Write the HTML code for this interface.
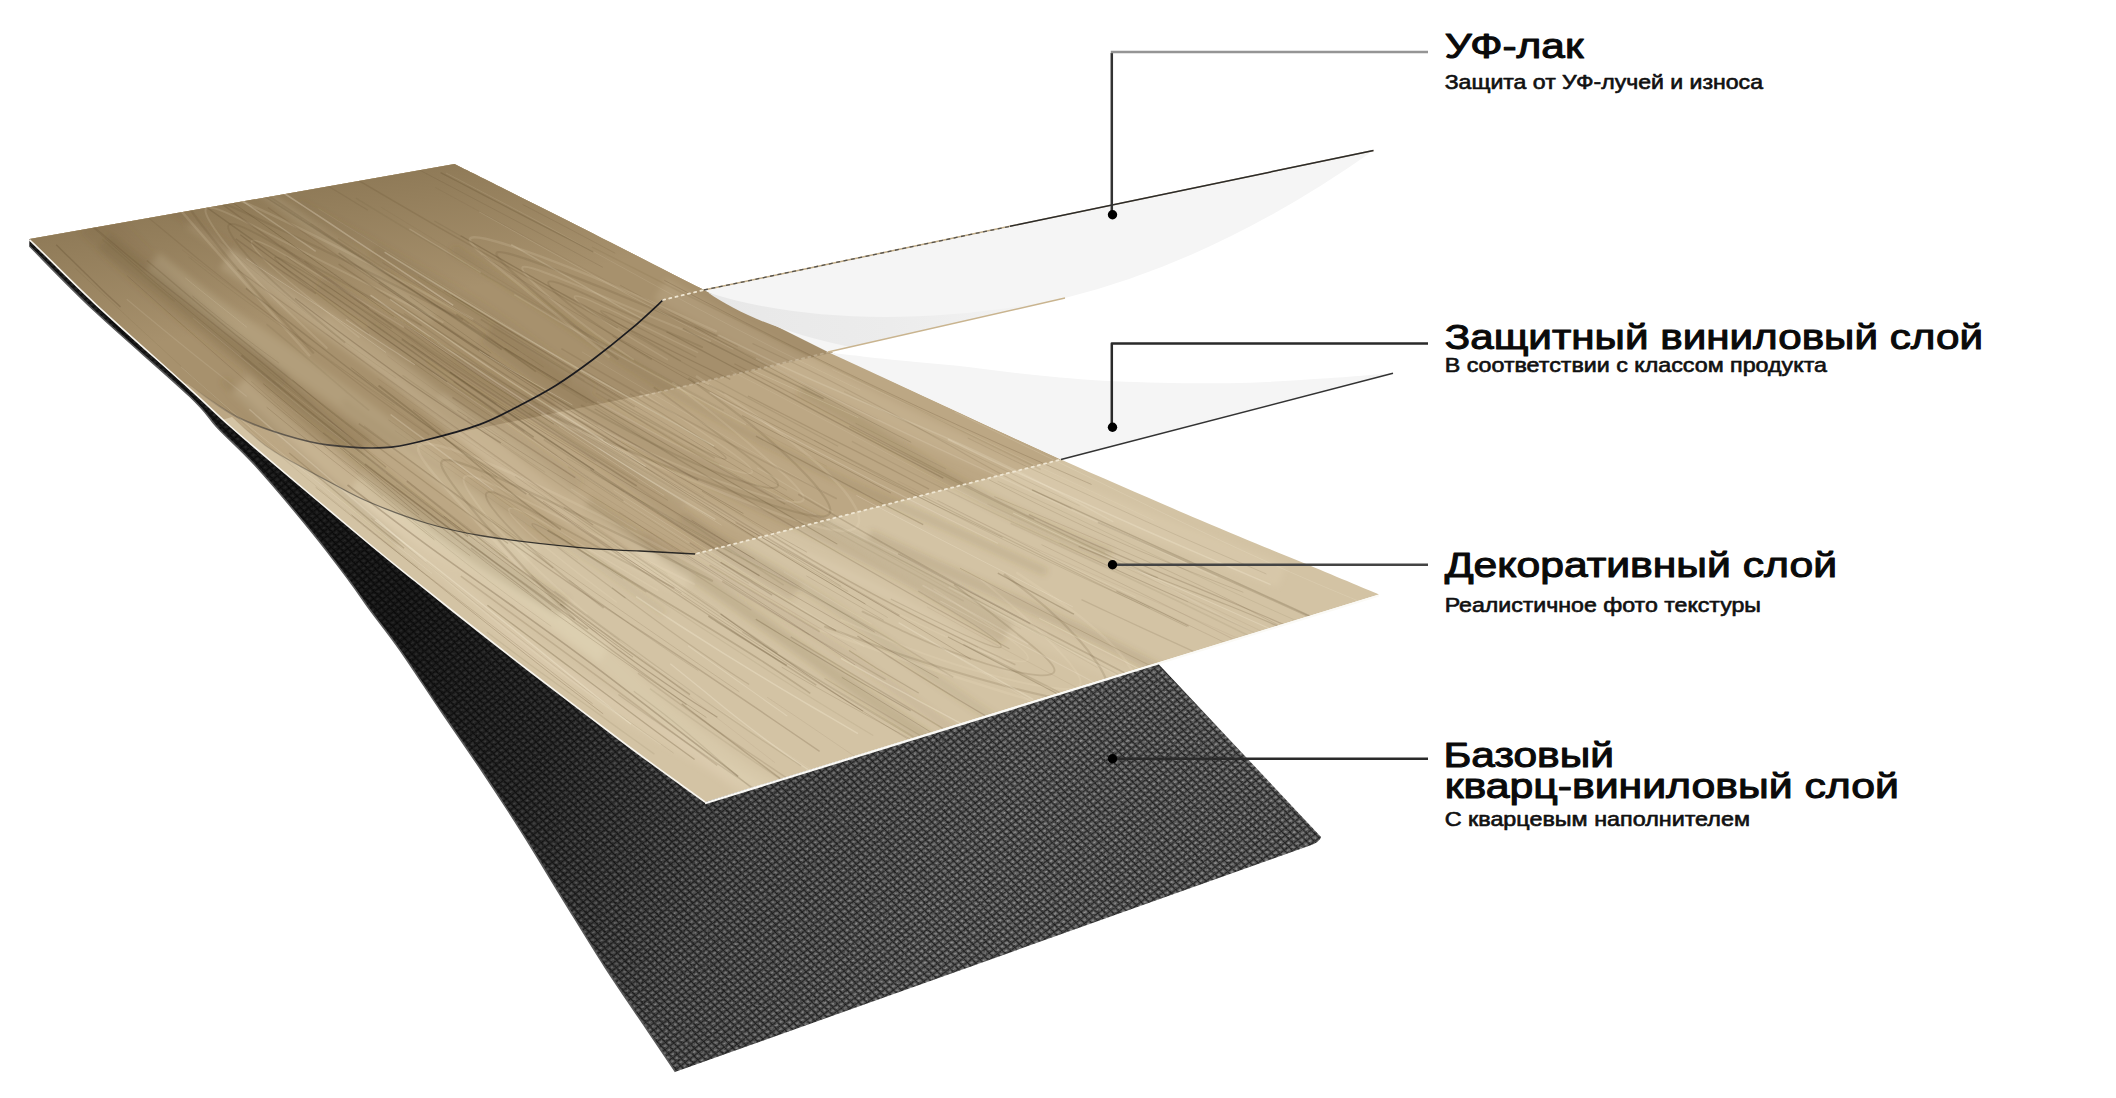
<!DOCTYPE html>
<html lang="ru"><head><meta charset="utf-8"><title>Слои</title>
<style>
html,body{margin:0;padding:0;background:#fff;}
body{width:2116px;height:1098px;overflow:hidden;}
svg{display:block;position:absolute;left:0;top:0;}
.t{font-family:"Liberation Sans","DejaVu Sans",sans-serif;font-weight:400;fill:#0a0a0a;stroke:#0a0a0a;stroke-width:1.05px;stroke-linejoin:round;}
.s{font-family:"Liberation Sans","DejaVu Sans",sans-serif;font-weight:400;fill:#111;stroke:#111;stroke-width:0.62px;stroke-linejoin:round;}
</style></head><body>
<svg width="2116" height="1098" viewBox="0 0 2116 1098">
<defs>
<clipPath id="cw"><path d="M29.5,239 L454.5,164 C473.6,173.6 527.8,200.4 569.4,221.4 C611.0,242.4 668.9,272.3 704.0,290.0 C739.1,307.7 759.0,317.2 780.0,327.5 C801.0,337.8 805.0,339.6 830.0,351.5 C855.0,363.4 891.5,381.0 930.0,399.0 C968.5,417.0 1016.0,439.3 1061.0,459.5 C1106.0,479.7 1159.8,502.8 1200.0,520.0 C1240.2,537.2 1272.7,550.2 1302.5,562.6 C1332.3,575.0 1366.2,589.2 1379.0,594.5 L705,802 C701.3,799.3 696.3,795.8 682.8,786.0 C669.3,776.2 649.6,762.2 624.0,743.0 C598.4,723.8 558.6,693.5 529.4,671.0 C500.2,648.5 468.2,623.2 449.0,608.0 C429.8,592.8 427.2,590.7 413.9,580.0 C400.6,569.3 392.6,563.3 369.4,544.0 C346.2,524.7 297.8,483.9 274.7,464.4 C251.6,444.9 245.2,439.6 231.0,427.0 C216.8,414.4 212.1,409.2 189.4,388.6 C166.7,368.0 121.4,328.2 94.7,303.3 C68.0,278.4 40.4,249.7 29.5,239.0 Z"/></clipPath>
<clipPath id="cd"><path d="M29.5,239 L29.5,246 C40.4,256.8 68.0,286.0 94.7,311.0 C121.4,336.0 168.9,376.5 189.4,396.0 C209.9,415.5 206.7,416.3 217.8,428.0 C228.9,439.7 240.0,448.5 255.8,466.0 C271.6,483.5 297.0,513.8 312.6,533.0 C328.2,552.2 340.0,568.3 349.5,581.0 C359.0,593.7 361.0,597.5 369.4,609.0 C377.8,620.5 388.1,633.0 400.0,650.0 C411.9,667.0 427.3,690.8 441.0,711.0 C454.7,731.2 468.3,750.5 482.0,771.0 C495.7,791.5 509.3,812.3 523.0,834.0 C536.7,855.7 550.3,878.8 564.0,901.0 C577.7,923.2 591.3,945.8 605.0,967.0 C618.7,988.2 634.2,1010.5 646.0,1028.0 C657.8,1045.5 670.6,1064.5 675.5,1071.8 L1310,845.5 Q1320,842 1321,837 L1158,663.5 L705,802 C701.3,799.3 696.3,795.8 682.8,786.0 C669.3,776.2 649.6,762.2 624.0,743.0 C598.4,723.8 558.6,693.5 529.4,671.0 C500.2,648.5 468.2,623.2 449.0,608.0 C429.8,592.8 427.2,590.7 413.9,580.0 C400.6,569.3 392.6,563.3 369.4,544.0 C346.2,524.7 297.8,483.9 274.7,464.4 C251.6,444.9 245.2,439.6 231.0,427.0 C216.8,414.4 212.1,409.2 189.4,388.6 C166.7,368.0 121.4,328.2 94.7,303.3 C68.0,278.4 40.4,249.7 29.5,239.0 Z"/></clipPath>
<linearGradient id="gd" gradientUnits="userSpaceOnUse" x1="420" y1="640" x2="1000" y2="900">
<stop offset="0" stop-color="#1b1b1b"/><stop offset="0.25" stop-color="#2b2b2b"/><stop offset="0.6" stop-color="#454545"/><stop offset="1" stop-color="#4c4c4c"/>
</linearGradient>
<pattern id="wv" width="5.6" height="5.6" patternUnits="userSpaceOnUse" patternTransform="matrix(0.8 -0.6 0.7 0.72 0 0)">
<rect width="5.6" height="5.6" fill="#525252"/>
<path d="M0,0 H5.6 M0,0 V5.6" stroke="#1c1c1c" stroke-width="1.5"/>
<ellipse cx="3.2" cy="3.2" rx="1.5" ry="1.1" fill="#8c8c8c"/>
<circle cx="1.6" cy="4.3" r="0.7" fill="#2a2a2a"/>
</pattern>
<linearGradient id="gs" gradientUnits="userSpaceOnUse" x1="400" y1="620" x2="960" y2="900">
<stop offset="0" stop-color="#000" stop-opacity="0.72"/><stop offset="0.3" stop-color="#000" stop-opacity="0.55"/><stop offset="0.65" stop-color="#000" stop-opacity="0.15"/><stop offset="1" stop-color="#000" stop-opacity="0"/>
</linearGradient>
<linearGradient id="gf" gradientUnits="userSpaceOnUse" x1="720" y1="300" x2="1060" y2="300">
<stop offset="0" stop-color="#e8e8e8"/><stop offset="0.5" stop-color="#ececec"/><stop offset="1" stop-color="#f4f4f4"/>
</linearGradient>
<linearGradient id="gc1" gradientUnits="userSpaceOnUse" x1="188" y1="0" x2="420" y2="0">
<stop offset="0" stop-color="#2a2a2e" stop-opacity="0"/><stop offset="0.35" stop-color="#2a2a2e" stop-opacity="0.55"/><stop offset="1" stop-color="#1a1a1e" stop-opacity="1"/>
</linearGradient>
<linearGradient id="gc2" gradientUnits="userSpaceOnUse" x1="232" y1="0" x2="560" y2="0">
<stop offset="0" stop-color="#33322f" stop-opacity="0"/><stop offset="0.3" stop-color="#33322f" stop-opacity="0.5"/><stop offset="1" stop-color="#22211f" stop-opacity="0.95"/>
</linearGradient>
<linearGradient id="gt" gradientUnits="userSpaceOnUse" x1="300" y1="190" x2="322" y2="315">
<stop offset="0" stop-color="#3b2a0c" stop-opacity="0.22"/><stop offset="1" stop-color="#3b2a0c" stop-opacity="0"/>
</linearGradient>
<filter id="bl" x="-5%" y="-5%" width="110%" height="110%"><feGaussianBlur stdDeviation="3.2"/></filter>
<filter id="nz" x="0" y="0" width="100%" height="100%">
<feTurbulence type="fractalNoise" baseFrequency="0.55" numOctaves="2" seed="3" result="n"/>
<feColorMatrix in="n" type="matrix" values="0 0 0 0 1  0 0 0 0 1  0 0 0 0 1  0 0 0 2.4 -1.15"/>
<feComposite in2="SourceGraphic" operator="in"/>
</filter>
<filter id="nzd" x="0" y="0" width="100%" height="100%">
<feTurbulence type="fractalNoise" baseFrequency="0.5" numOctaves="2" seed="11" result="n"/>
<feColorMatrix in="n" type="matrix" values="0 0 0 0 0  0 0 0 0 0  0 0 0 0 0  0 0 0 2.6 -1.2"/>
<feComposite in2="SourceGraphic" operator="in"/>
</filter>
</defs>
<rect width="2116" height="1098" fill="#fff"/>

<path d="M29.5,239 L29.5,246 C40.4,256.8 68.0,286.0 94.7,311.0 C121.4,336.0 168.9,376.5 189.4,396.0 C209.9,415.5 206.7,416.3 217.8,428.0 C228.9,439.7 240.0,448.5 255.8,466.0 C271.6,483.5 297.0,513.8 312.6,533.0 C328.2,552.2 340.0,568.3 349.5,581.0 C359.0,593.7 361.0,597.5 369.4,609.0 C377.8,620.5 388.1,633.0 400.0,650.0 C411.9,667.0 427.3,690.8 441.0,711.0 C454.7,731.2 468.3,750.5 482.0,771.0 C495.7,791.5 509.3,812.3 523.0,834.0 C536.7,855.7 550.3,878.8 564.0,901.0 C577.7,923.2 591.3,945.8 605.0,967.0 C618.7,988.2 634.2,1010.5 646.0,1028.0 C657.8,1045.5 670.6,1064.5 675.5,1071.8 L1310,845.5 Q1320,842 1321,837 L1158,663.5 L705,802 C701.3,799.3 696.3,795.8 682.8,786.0 C669.3,776.2 649.6,762.2 624.0,743.0 C598.4,723.8 558.6,693.5 529.4,671.0 C500.2,648.5 468.2,623.2 449.0,608.0 C429.8,592.8 427.2,590.7 413.9,580.0 C400.6,569.3 392.6,563.3 369.4,544.0 C346.2,524.7 297.8,483.9 274.7,464.4 C251.6,444.9 245.2,439.6 231.0,427.0 C216.8,414.4 212.1,409.2 189.4,388.6 C166.7,368.0 121.4,328.2 94.7,303.3 C68.0,278.4 40.4,249.7 29.5,239.0 Z" fill="url(#wv)"/>
<path d="M29.5,239 L29.5,246 C40.4,256.8 68.0,286.0 94.7,311.0 C121.4,336.0 168.9,376.5 189.4,396.0 C209.9,415.5 206.7,416.3 217.8,428.0 C228.9,439.7 240.0,448.5 255.8,466.0 C271.6,483.5 297.0,513.8 312.6,533.0 C328.2,552.2 340.0,568.3 349.5,581.0 C359.0,593.7 361.0,597.5 369.4,609.0 C377.8,620.5 388.1,633.0 400.0,650.0 C411.9,667.0 427.3,690.8 441.0,711.0 C454.7,731.2 468.3,750.5 482.0,771.0 C495.7,791.5 509.3,812.3 523.0,834.0 C536.7,855.7 550.3,878.8 564.0,901.0 C577.7,923.2 591.3,945.8 605.0,967.0 C618.7,988.2 634.2,1010.5 646.0,1028.0 C657.8,1045.5 670.6,1064.5 675.5,1071.8 L1310,845.5 Q1320,842 1321,837 L1158,663.5 L705,802 C701.3,799.3 696.3,795.8 682.8,786.0 C669.3,776.2 649.6,762.2 624.0,743.0 C598.4,723.8 558.6,693.5 529.4,671.0 C500.2,648.5 468.2,623.2 449.0,608.0 C429.8,592.8 427.2,590.7 413.9,580.0 C400.6,569.3 392.6,563.3 369.4,544.0 C346.2,524.7 297.8,483.9 274.7,464.4 C251.6,444.9 245.2,439.6 231.0,427.0 C216.8,414.4 212.1,409.2 189.4,388.6 C166.7,368.0 121.4,328.2 94.7,303.3 C68.0,278.4 40.4,249.7 29.5,239.0 Z" fill="#fff" filter="url(#nz)" opacity="0.16"/>
<path d="M29.5,239 L29.5,246 C40.4,256.8 68.0,286.0 94.7,311.0 C121.4,336.0 168.9,376.5 189.4,396.0 C209.9,415.5 206.7,416.3 217.8,428.0 C228.9,439.7 240.0,448.5 255.8,466.0 C271.6,483.5 297.0,513.8 312.6,533.0 C328.2,552.2 340.0,568.3 349.5,581.0 C359.0,593.7 361.0,597.5 369.4,609.0 C377.8,620.5 388.1,633.0 400.0,650.0 C411.9,667.0 427.3,690.8 441.0,711.0 C454.7,731.2 468.3,750.5 482.0,771.0 C495.7,791.5 509.3,812.3 523.0,834.0 C536.7,855.7 550.3,878.8 564.0,901.0 C577.7,923.2 591.3,945.8 605.0,967.0 C618.7,988.2 634.2,1010.5 646.0,1028.0 C657.8,1045.5 670.6,1064.5 675.5,1071.8 L1310,845.5 Q1320,842 1321,837 L1158,663.5 L705,802 C701.3,799.3 696.3,795.8 682.8,786.0 C669.3,776.2 649.6,762.2 624.0,743.0 C598.4,723.8 558.6,693.5 529.4,671.0 C500.2,648.5 468.2,623.2 449.0,608.0 C429.8,592.8 427.2,590.7 413.9,580.0 C400.6,569.3 392.6,563.3 369.4,544.0 C346.2,524.7 297.8,483.9 274.7,464.4 C251.6,444.9 245.2,439.6 231.0,427.0 C216.8,414.4 212.1,409.2 189.4,388.6 C166.7,368.0 121.4,328.2 94.7,303.3 C68.0,278.4 40.4,249.7 29.5,239.0 Z" fill="#000" filter="url(#nzd)" opacity="0.35"/>
<path d="M29.5,239 L29.5,246 C40.4,256.8 68.0,286.0 94.7,311.0 C121.4,336.0 168.9,376.5 189.4,396.0 C209.9,415.5 206.7,416.3 217.8,428.0 C228.9,439.7 240.0,448.5 255.8,466.0 C271.6,483.5 297.0,513.8 312.6,533.0 C328.2,552.2 340.0,568.3 349.5,581.0 C359.0,593.7 361.0,597.5 369.4,609.0 C377.8,620.5 388.1,633.0 400.0,650.0 C411.9,667.0 427.3,690.8 441.0,711.0 C454.7,731.2 468.3,750.5 482.0,771.0 C495.7,791.5 509.3,812.3 523.0,834.0 C536.7,855.7 550.3,878.8 564.0,901.0 C577.7,923.2 591.3,945.8 605.0,967.0 C618.7,988.2 634.2,1010.5 646.0,1028.0 C657.8,1045.5 670.6,1064.5 675.5,1071.8 L1310,845.5 Q1320,842 1321,837 L1158,663.5 L705,802 C701.3,799.3 696.3,795.8 682.8,786.0 C669.3,776.2 649.6,762.2 624.0,743.0 C598.4,723.8 558.6,693.5 529.4,671.0 C500.2,648.5 468.2,623.2 449.0,608.0 C429.8,592.8 427.2,590.7 413.9,580.0 C400.6,569.3 392.6,563.3 369.4,544.0 C346.2,524.7 297.8,483.9 274.7,464.4 C251.6,444.9 245.2,439.6 231.0,427.0 C216.8,414.4 212.1,409.2 189.4,388.6 C166.7,368.0 121.4,328.2 94.7,303.3 C68.0,278.4 40.4,249.7 29.5,239.0 Z" fill="url(#gs)"/>
<path d="M29.5,246 C40.4,256.8 68.0,286.0 94.7,311.0 C121.4,336.0 168.9,376.5 189.4,396.0 C209.9,415.5 206.7,416.3 217.8,428.0 C228.9,439.7 240.0,448.5 255.8,466.0 C271.6,483.5 297.0,513.8 312.6,533.0 C328.2,552.2 340.0,568.3 349.5,581.0 C359.0,593.7 361.0,597.5 369.4,609.0 C377.8,620.5 388.1,633.0 400.0,650.0 C411.9,667.0 427.3,690.8 441.0,711.0 C454.7,731.2 468.3,750.5 482.0,771.0 C495.7,791.5 509.3,812.3 523.0,834.0 C536.7,855.7 550.3,878.8 564.0,901.0 C577.7,923.2 591.3,945.8 605.0,967.0 C618.7,988.2 634.2,1010.5 646.0,1028.0 C657.8,1045.5 670.6,1064.5 675.5,1071.8" fill="none" stroke="#5a5a5a" stroke-width="1.6"/>
<path d="M29.5,239 L454.5,164 C473.6,173.6 527.8,200.4 569.4,221.4 C611.0,242.4 668.9,272.3 704.0,290.0 C739.1,307.7 759.0,317.2 780.0,327.5 C801.0,337.8 805.0,339.6 830.0,351.5 C855.0,363.4 891.5,381.0 930.0,399.0 C968.5,417.0 1016.0,439.3 1061.0,459.5 C1106.0,479.7 1159.8,502.8 1200.0,520.0 C1240.2,537.2 1272.7,550.2 1302.5,562.6 C1332.3,575.0 1366.2,589.2 1379.0,594.5 L705,802 C701.3,799.3 696.3,795.8 682.8,786.0 C669.3,776.2 649.6,762.2 624.0,743.0 C598.4,723.8 558.6,693.5 529.4,671.0 C500.2,648.5 468.2,623.2 449.0,608.0 C429.8,592.8 427.2,590.7 413.9,580.0 C400.6,569.3 392.6,563.3 369.4,544.0 C346.2,524.7 297.8,483.9 274.7,464.4 C251.6,444.9 245.2,439.6 231.0,427.0 C216.8,414.4 212.1,409.2 189.4,388.6 C166.7,368.0 121.4,328.2 94.7,303.3 C68.0,278.4 40.4,249.7 29.5,239.0 Z" fill="#d3c3a4"/>
<g clip-path="url(#cw)">
<path d="M695,554 C685.8,553.5 659.2,552.0 640.0,551.0 C620.8,550.0 606.2,550.2 580.0,547.7 C553.8,545.2 508.7,540.1 483.0,536.0 C457.3,531.9 445.0,528.7 426.0,523.0 C407.0,517.3 384.8,508.7 369.0,502.0 C353.2,495.3 347.2,491.3 331.5,483.0 C315.8,474.7 288.6,460.3 275.0,452.0 C261.4,443.7 257.2,438.8 250.0,433.0 C242.8,427.2 235.0,419.7 232.0,417.0 L215,422 L0,232 L0,100 L455,100 L1200,400 L1061,459.5 Z" fill="#bca784"/>
<path d="M663,300 C657.8,304.8 643.1,318.9 631.5,328.7 C619.9,338.5 606.2,349.5 593.6,359.0 C581.0,368.5 568.4,377.6 555.8,385.5 C543.2,393.4 530.5,399.9 517.9,406.4 C505.3,412.9 495.3,418.8 480.0,424.4 C464.7,430.0 442.0,436.1 426.0,440.0 C410.0,443.9 391.0,446.4 384.0,447.7 L661.8,391.2 L840,351 L704,285 Z" fill="#a58f6c"/>
<path d="M663,300 C657.8,304.8 643.1,318.9 631.5,328.7 C619.9,338.5 606.2,349.5 593.6,359.0 C581.0,368.5 568.4,377.6 555.8,385.5 C543.2,393.4 530.5,399.9 517.9,406.4 C505.3,412.9 495.3,418.8 480.0,424.4 C464.7,430.0 442.0,436.1 426.0,440.0 C410.0,443.9 400.4,446.9 384.0,447.7 C367.6,448.5 343.9,447.0 327.3,444.9 C310.8,442.8 298.9,439.3 284.7,435.0 C270.5,430.7 253.8,424.8 242.0,419.3 C230.2,413.9 222.6,408.2 213.6,402.3 C204.6,396.4 192.3,387.1 188.0,384.0 L170,381 L0,231 L0,100 L455,100 L720,280 L704,290 Z" fill="#a7916d"/>
<path d="M0,200 L454.5,120 L800,300 L700,480 L100,480 Z" fill="url(#gt)"/>
<g fill="none" filter="url(#bl)">
<path d="M189.4,225.1 C201.1,233.4 236.5,258.4 259.2,275.0 C281.9,291.6 304.5,307.7 325.8,324.4 C347.2,341.1 367.1,358.4 387.4,375.2 C407.6,392.0 427.0,408.9 447.4,425.4 C467.9,441.9 488.2,458.4 509.9,474.4 C531.6,490.4 566.6,513.7 577.9,521.6" stroke="#f3e8cf" stroke-opacity="0.12" stroke-width="7.3"/>
<path d="M223.0,379.7 C227.8,384.4 242.3,398.5 252.0,407.7 C261.6,417.0 271.3,426.2 281.0,435.3 C290.7,444.4 300.4,453.4 310.1,462.5 C319.8,471.5 329.5,480.5 339.3,489.5 C349.0,498.5 358.7,507.5 368.6,516.5 C378.5,525.4 393.5,538.8 398.5,543.2" stroke="#6b5533" stroke-opacity="0.15" stroke-width="7.6"/>
<path d="M829.9,520.6 C839.4,526.5 867.6,544.2 887.0,555.9 C906.4,567.5 926.0,579.1 946.3,590.4 C966.5,601.6 987.3,612.6 1008.6,623.4 C1030.0,634.1 1052.0,644.6 1074.3,655.0 C1096.7,665.4 1119.6,675.6 1142.6,685.8 C1165.6,695.9 1200.7,711.0 1212.3,716.0" stroke="#f3e8cf" stroke-opacity="0.09" stroke-width="13.1"/>
<path d="M86.7,224.8 C93.6,231.3 113.9,250.9 128.0,263.7 C142.1,276.6 156.5,289.4 171.5,301.8 C186.5,314.3 202.3,326.3 218.1,338.5 C233.9,350.6 250.2,362.6 266.5,374.7 C282.7,386.8 299.1,399.0 315.8,410.8 C332.4,422.6 358.0,439.7 366.4,445.4" stroke="#6b5533" stroke-opacity="0.13" stroke-width="20.7"/>
<path d="M230.7,170.4 C236.7,174.4 254.8,186.6 266.5,194.8 C278.2,202.9 289.7,211.1 301.0,219.4 C312.2,227.7 323.2,236.1 334.2,244.3 C345.2,252.6 356.1,260.9 367.1,269.1 C378.0,277.4 388.9,285.7 399.9,293.9 C410.9,302.2 427.7,314.6 433.2,318.7" stroke="#f3e8cf" stroke-opacity="0.13" stroke-width="9.7"/>
<path d="M320.0,282.4 C334.0,291.1 375.3,317.7 404.1,335.0 C432.9,352.3 464.3,369.0 492.7,386.0 C521.2,403.0 549.4,419.6 574.9,437.0 C600.4,454.3 622.4,472.6 645.7,490.3 C669.1,508.1 690.1,526.4 715.1,543.4 C740.2,560.5 782.6,584.3 796.1,592.5" stroke="#6b5533" stroke-opacity="0.13" stroke-width="18.6"/>
<path d="M452.7,248.4 C467.7,258.2 512.9,287.6 542.6,307.1 C572.3,326.7 600.2,346.8 630.6,365.8 C661.0,384.9 691.9,403.6 724.9,421.6 C758.0,439.7 793.2,457.1 828.9,474.1 C864.6,491.1 902.7,507.2 939.0,523.6 C975.2,540.0 1028.5,564.2 1046.4,572.4" stroke="#6b5533" stroke-opacity="0.15" stroke-width="8.1"/>
<path d="M353.5,485.9 C363.7,495.4 394.8,523.9 414.9,542.8 C435.1,561.7 453.8,580.8 474.4,599.3 C495.1,617.8 515.8,636.3 538.9,653.9 C562.0,671.6 587.0,688.6 612.9,705.3 C638.8,721.9 667.3,737.7 694.5,753.6 C721.7,769.6 762.6,793.1 776.2,801.0" stroke="#f3e8cf" stroke-opacity="0.12" stroke-width="16.3"/>
<path d="M487.6,333.0 C500.1,342.2 536.2,370.4 562.4,388.4 C588.7,406.4 615.8,423.9 645.2,440.8 C674.6,457.7 706.8,473.8 738.7,489.7 C770.6,505.7 805.1,520.8 836.5,536.4 C868.0,552.1 899.2,567.6 927.7,583.7 C956.1,599.9 994.2,625.1 1007.5,633.4" stroke="#6b5533" stroke-opacity="0.14" stroke-width="23.0"/>
<path d="M869.2,534.9 C879.7,539.8 911.3,554.4 932.5,564.0 C953.8,573.6 975.5,583.0 996.7,592.5 C1018.0,601.9 1039.3,611.2 1059.9,620.7 C1080.5,630.2 1100.8,639.7 1120.3,649.5 C1139.8,659.3 1158.7,669.2 1177.0,679.4 C1195.3,689.5 1221.3,705.2 1230.2,710.4" stroke="#6b5533" stroke-opacity="0.14" stroke-width="11.1"/>
<path d="M108.1,220.7 C112.7,225.3 126.6,239.1 135.7,248.4 C144.8,257.7 153.4,267.2 162.5,276.4 C171.6,285.6 180.7,294.7 190.3,303.7 C199.9,312.8 209.7,321.6 219.9,330.5 C230.2,339.3 240.8,348.0 251.8,356.7 C262.8,365.4 280.3,378.2 286.0,382.5" stroke="#6b5533" stroke-opacity="0.09" stroke-width="19.8"/>
<path d="M238.9,385.2 C247.6,393.4 272.8,418.1 291.0,434.0 C309.2,449.8 328.3,465.1 348.0,480.4 C367.7,495.6 388.2,510.8 409.3,525.5 C430.4,540.2 452.5,554.5 474.4,568.8 C496.2,583.1 518.8,597.0 540.6,611.1 C562.3,625.3 594.2,646.5 604.9,653.5" stroke="#f3e8cf" stroke-opacity="0.18" stroke-width="21.9"/>
<path d="M643.1,535.4 C655.0,541.9 690.9,561.4 714.1,574.5 C737.3,587.5 760.3,600.5 782.1,613.7 C804.0,626.9 825.0,640.3 845.3,653.8 C865.6,667.3 884.8,681.0 904.0,694.7 C923.2,708.5 941.5,722.4 960.6,736.1 C979.7,749.9 1009.0,770.3 1018.7,777.1" stroke="#6b5533" stroke-opacity="0.09" stroke-width="8.7"/>
<path d="M372.3,251.4 C378.3,254.9 396.5,265.3 408.3,272.4 C420.1,279.5 431.7,286.6 443.0,293.8 C454.3,301.0 465.3,308.2 476.1,315.5 C486.8,322.8 497.2,330.3 507.6,337.6 C517.9,345.0 527.9,352.4 538.0,359.8 C548.1,367.2 563.0,378.1 568.0,381.8" stroke="#6b5533" stroke-opacity="0.13" stroke-width="13.5"/>
<path d="M555.4,407.1 C566.4,415.2 597.9,439.8 621.4,455.4 C644.8,471.1 669.8,486.3 696.3,501.0 C722.8,515.6 752.2,529.4 780.6,543.3 C808.9,557.1 839.2,570.1 866.5,583.9 C893.9,597.7 920.4,611.6 944.8,626.1 C969.1,640.5 1001.4,663.3 1012.7,670.7" stroke="#f3e8cf" stroke-opacity="0.17" stroke-width="7.0"/>
<path d="M367.4,327.7 C373.2,332.3 390.7,345.9 402.2,355.0 C413.8,364.1 425.1,373.2 436.7,382.2 C448.3,391.2 460.0,400.0 471.7,408.8 C483.4,417.6 495.2,426.4 507.0,435.1 C518.8,443.8 530.7,452.5 542.7,461.2 C554.6,469.9 572.9,482.9 578.9,487.3" stroke="#6b5533" stroke-opacity="0.08" stroke-width="17.4"/>
<path d="M130.9,181.1 C136.6,184.9 153.4,196.3 164.8,203.9 C176.1,211.5 187.6,219.1 198.9,226.6 C210.2,234.2 221.5,241.8 232.4,249.4 C243.4,257.0 254.2,264.7 264.7,272.2 C275.3,279.8 285.8,287.2 295.8,294.9 C305.8,302.5 320.1,314.1 324.9,317.9" stroke="#6b5533" stroke-opacity="0.11" stroke-width="8.7"/>
<path d="M297.9,204.1 C306.9,209.2 333.9,224.5 352.1,234.5 C370.3,244.6 389.3,254.4 407.2,264.4 C425.1,274.4 442.9,284.4 459.6,294.6 C476.3,304.9 492.1,315.4 507.3,325.9 C522.5,336.5 536.4,347.3 550.7,358.0 C565.0,368.6 586.0,384.5 593.1,389.8" stroke="#6b5533" stroke-opacity="0.08" stroke-width="12.3"/>
<path d="M454.0,356.2 C460.6,360.3 480.5,372.7 493.7,380.8 C506.9,388.9 520.2,396.9 533.3,405.0 C546.4,413.0 559.5,421.0 572.4,429.0 C585.3,437.1 598.1,445.2 610.8,453.2 C623.4,461.3 635.9,469.5 648.3,477.6 C660.8,485.6 679.2,497.6 685.4,501.7" stroke="#6b5533" stroke-opacity="0.10" stroke-width="7.8"/>
<path d="M480.1,618.3 C489.6,624.7 517.0,644.0 536.8,656.3 C556.6,668.6 578.6,680.1 599.0,692.1 C619.4,704.1 640.4,716.0 659.1,728.3 C677.9,740.6 695.6,753.0 711.7,765.9 C727.9,778.9 741.7,792.4 756.0,805.9 C770.3,819.4 790.6,840.0 797.6,846.8" stroke="#f3e8cf" stroke-opacity="0.08" stroke-width="8.6"/>
<path d="M800.3,389.5 C808.8,394.3 834.7,408.7 851.2,418.3 C867.7,427.9 883.4,437.6 899.3,447.3 C915.2,457.0 930.5,467.0 946.7,476.6 C962.9,486.1 979.2,495.5 996.5,504.6 C1013.9,513.7 1031.9,522.5 1050.8,531.1 C1069.6,539.6 1100.0,551.8 1109.9,555.9" stroke="#6b5533" stroke-opacity="0.15" stroke-width="12.6"/>
<path d="M226.1,258.6 C240.2,267.7 283.2,294.8 310.6,313.1 C337.9,331.4 365.2,349.8 390.3,368.3 C415.4,386.9 438.2,405.7 461.2,424.5 C484.2,443.2 504.9,462.4 528.2,480.8 C551.6,499.2 575.0,517.6 601.4,535.0 C627.9,552.3 672.5,576.7 686.7,585.0" stroke="#f3e8cf" stroke-opacity="0.18" stroke-width="23.7"/>
<path d="M342.5,401.6 C351.0,407.7 376.0,426.3 393.8,438.3 C411.7,450.3 430.6,462.0 449.4,473.6 C468.2,485.3 487.7,496.9 506.6,508.4 C525.6,519.9 544.9,531.1 563.1,542.6 C581.4,554.1 599.1,565.7 615.9,577.5 C632.7,589.3 656.0,607.3 664.0,613.2" stroke="#6b5533" stroke-opacity="0.10" stroke-width="6.5"/>
<path d="M660.3,289.0 C676.0,297.9 722.4,324.8 754.0,342.2 C785.7,359.6 817.4,376.8 850.4,393.6 C883.3,410.4 917.0,427.0 951.7,443.0 C986.5,459.0 1022.5,474.5 1059.0,489.6 C1095.4,504.7 1133.1,519.2 1170.3,533.7 C1207.4,548.1 1263.3,569.0 1282.0,576.0" stroke="#f3e8cf" stroke-opacity="0.12" stroke-width="23.8"/>
<path d="M153.0,262.1 C163.9,270.5 195.7,295.8 218.4,312.1 C241.2,328.5 266.1,344.1 289.4,360.1 C312.8,376.2 336.5,392.3 358.4,408.4 C380.4,424.5 401.5,440.3 421.2,456.7 C441.0,473.0 458.4,490.0 476.9,506.5 C495.5,523.0 523.2,547.6 532.5,555.8" stroke="#f3e8cf" stroke-opacity="0.14" stroke-width="22.2"/>
<path d="M356.0,480.9 C370.8,490.5 415.8,519.3 444.7,538.4 C473.7,557.6 503.7,576.1 529.9,595.6 C556.0,615.1 578.8,635.4 601.8,655.6 C624.8,675.7 644.1,696.9 667.9,716.6 C691.6,736.3 716.3,755.6 744.4,773.8 C772.5,792.0 821.2,817.0 836.6,825.6" stroke="#f3e8cf" stroke-opacity="0.14" stroke-width="20.1"/>
<path d="M587.0,502.8 C598.9,510.7 635.1,534.4 658.4,550.2 C681.8,566.0 704.6,581.8 727.2,597.6 C749.8,613.4 771.8,629.3 793.9,645.0 C816.1,660.8 837.9,676.5 860.2,692.1 C882.6,707.6 905.0,723.0 928.1,738.2 C951.2,753.4 987.1,775.8 998.9,783.3" stroke="#6b5533" stroke-opacity="0.16" stroke-width="13.1"/>
<path d="M104.4,240.7 C118.0,251.2 159.6,282.7 185.7,303.6 C211.9,324.5 237.6,344.9 261.4,366.1 C285.2,387.2 306.0,409.2 328.5,430.3 C351.1,451.5 372.5,472.5 396.8,492.9 C421.2,513.3 446.8,533.4 474.6,552.5 C502.3,571.7 548.7,598.7 563.5,608.0" stroke="#6b5533" stroke-opacity="0.15" stroke-width="20.5"/>
<path d="M440.1,396.2 C447.0,400.6 468.2,413.7 481.4,422.6 C494.7,431.6 507.3,440.5 519.4,449.7 C531.5,458.9 542.8,468.3 554.1,477.6 C565.4,487.0 576.0,496.5 587.1,505.8 C598.2,515.1 609.1,524.5 620.7,533.6 C632.3,542.7 650.9,556.1 656.9,560.6" stroke="#f3e8cf" stroke-opacity="0.16" stroke-width="6.3"/>
<path d="M681.6,518.0 C693.6,524.6 730.6,544.3 753.7,557.6 C776.8,571.0 799.0,584.4 820.2,598.1 C841.5,611.8 861.2,625.8 881.1,639.7 C900.9,653.6 919.5,667.8 939.4,681.7 C959.2,695.5 978.8,709.4 1000.1,722.7 C1021.4,736.1 1056.0,755.3 1067.2,761.8" stroke="#6b5533" stroke-opacity="0.10" stroke-width="9.8"/>
</g>
<g fill="none" stroke-linecap="round">
<path d="M368.5,333.3 C363.5,329.5 347.8,317.2 338.7,310.3 C329.7,303.3 321.5,297.0 314.3,291.4 C307.1,285.8 300.8,280.9 295.5,276.7 C290.2,272.5 285.9,269.1 282.6,266.2 C279.3,263.3 277.1,261.1 275.9,259.5 C274.7,258.0 274.5,257.1 275.2,257.0 C276.0,256.8 277.7,257.4 280.4,258.6 C283.0,259.9 286.7,261.9 291.2,264.5 C295.8,267.0 301.4,270.2 307.9,274.2 C314.4,278.1 321.7,282.8 330.0,288.1 C338.3,293.4 347.5,299.5 357.7,306.2 C367.9,312.9 385.6,324.6 391.2,328.3" stroke="#5e4a2c" stroke-opacity="0.16" stroke-width="1.2"/>
<path d="M358.9,337.2 C352.8,332.4 333.5,317.2 322.5,308.5 C311.6,299.8 301.8,292.0 293.3,285.0 C284.8,278.0 277.4,271.9 271.6,266.5 C265.7,261.1 261.2,256.4 258.0,252.6 C254.7,248.9 252.7,246.0 251.8,244.0 C250.9,241.9 251.3,240.8 252.8,240.5 C254.3,240.2 256.9,240.8 260.6,242.3 C264.3,243.7 269.1,246.1 275.0,249.3 C280.9,252.5 287.8,256.7 296.0,261.6 C304.2,266.4 313.6,272.0 324.3,278.5 C335.0,285.0 346.8,292.4 360.0,300.5 C373.3,308.6 396.5,322.8 403.8,327.3" stroke="#f6ead0" stroke-opacity="0.14" stroke-width="1.5"/>
<path d="M344.5,342.2 C337.5,336.4 315.1,318.1 302.7,307.5 C290.3,297.0 279.5,287.5 270.3,278.9 C261.1,270.3 253.7,262.6 247.6,255.9 C241.5,249.2 237.1,243.5 233.9,238.9 C230.7,234.3 228.9,230.8 228.3,228.3 C227.7,225.8 228.4,224.4 230.4,224.0 C232.4,223.6 235.6,224.3 240.1,226.1 C244.6,227.8 250.4,230.6 257.6,234.4 C264.8,238.2 273.3,243.1 283.5,248.8 C293.7,254.6 305.3,261.3 318.8,268.9 C332.3,276.5 347.5,285.0 364.5,294.4 C381.5,303.8 411.5,320.1 420.9,325.2" stroke="#5e4a2c" stroke-opacity="0.16" stroke-width="1.8"/>
<path d="M326.8,347.9 C319.4,341.0 295.7,319.1 282.7,306.5 C269.8,293.9 258.7,282.7 249.3,272.4 C239.8,262.1 232.4,252.7 226.2,244.7 C220.0,236.8 215.2,230.1 211.8,224.7 C208.4,219.3 206.3,215.2 205.7,212.4 C205.1,209.5 205.7,207.9 208.0,207.5 C210.3,207.1 213.9,207.9 219.4,209.9 C224.8,211.9 231.7,215.1 240.7,219.4 C249.6,223.8 260.2,229.2 272.9,235.8 C285.7,242.3 300.2,250.1 317.0,258.7 C333.8,267.3 352.9,276.7 373.9,287.2 C394.8,297.8 431.2,316.3 442.6,322.2" stroke="#f6ead0" stroke-opacity="0.14" stroke-width="2.0"/>
<path d="M313.2,352.7 C305.8,344.6 281.7,319.0 268.4,304.3 C255.1,289.6 243.6,276.4 233.5,264.5 C223.4,252.6 215.1,241.9 208.0,232.9 C201.0,223.9 195.2,216.4 191.1,210.3 C186.9,204.2 184.1,199.7 183.2,196.4 C182.3,193.2 182.9,191.5 185.6,191.0 C188.3,190.5 192.7,191.5 199.5,193.7 C206.2,195.9 214.9,199.4 225.9,204.2 C236.9,208.9 250.1,215.0 265.5,222.2 C280.9,229.5 298.5,238.0 318.4,247.7 C338.2,257.3 360.5,267.9 384.4,279.9 C408.4,291.9 449.2,312.9 462.2,319.6" stroke="#5e4a2c" stroke-opacity="0.16" stroke-width="2.2"/>
<path d="M309.2,355.4 C301.1,346.3 275.3,317.3 260.6,300.7 C245.8,284.2 232.4,269.3 220.6,256.0 C208.8,242.8 198.5,231.0 189.9,221.0 C181.3,211.0 174.1,202.8 169.0,196.1 C164.0,189.3 160.6,184.3 159.6,180.7 C158.7,177.1 159.7,175.1 163.2,174.5 C166.7,173.9 172.5,174.9 180.7,177.3 C188.9,179.6 199.6,183.5 212.5,188.7 C225.5,193.9 240.9,200.6 258.4,208.7 C275.9,216.8 295.6,226.3 317.4,237.2 C339.2,248.0 363.2,260.2 389.0,273.8 C414.9,287.5 458.5,311.5 472.4,319.0" stroke="#f6ead0" stroke-opacity="0.14" stroke-width="2.5"/>
<path d="M608.7,399.4 C614.4,402.5 632.5,412.4 642.9,418.1 C653.2,423.7 662.5,428.8 670.9,433.3 C679.2,437.8 686.6,441.8 693.0,445.1 C699.4,448.5 704.8,451.2 709.4,453.4 C713.9,455.5 717.6,457.0 720.3,458.0 C723.0,458.9 724.8,459.3 725.6,459.1 C726.4,458.9 726.3,458.1 725.1,456.7 C724.0,455.4 721.9,453.5 718.7,451.0 C715.5,448.5 711.3,445.4 706.0,441.8 C700.8,438.1 694.4,434.0 687.1,429.2 C679.7,424.5 671.2,419.2 661.8,413.3 C652.3,407.5 635.6,397.2 630.3,394.0" stroke="#5e4a2c" stroke-opacity="0.16" stroke-width="1.2"/>
<path d="M597.5,401.9 C604.5,405.7 626.7,418.1 639.6,425.1 C652.5,432.1 664.2,438.4 674.8,443.9 C685.5,449.4 695.0,454.2 703.5,458.1 C712.1,462.1 719.6,465.2 726.0,467.6 C732.4,470.0 737.8,471.6 741.9,472.6 C746.0,473.6 749.0,473.8 750.6,473.3 C752.3,472.9 752.7,471.8 751.8,470.0 C750.8,468.2 748.6,465.7 744.9,462.6 C741.3,459.5 736.2,455.8 729.9,451.3 C723.7,446.8 716.0,441.5 707.2,435.6 C698.5,429.6 688.4,423.0 677.2,415.6 C666.0,408.3 646.4,395.4 640.3,391.4" stroke="#f6ead0" stroke-opacity="0.14" stroke-width="1.5"/>
<path d="M581.7,405.5 C590.2,410.1 616.7,424.9 632.5,433.1 C648.3,441.4 662.9,448.7 676.4,455.1 C689.9,461.4 702.4,466.7 713.5,471.1 C724.6,475.5 734.6,479.0 743.0,481.7 C751.4,484.3 758.5,486.1 764.0,487.1 C769.4,488.1 773.4,488.2 775.7,487.6 C778.0,487.0 778.6,485.6 777.7,483.4 C776.7,481.2 774.1,478.3 770.0,474.5 C765.9,470.7 760.1,466.2 753.1,460.7 C746.1,455.3 737.6,449.0 727.9,441.8 C718.2,434.5 707.3,426.4 695.0,417.3 C682.8,408.3 661.2,392.6 654.4,387.7" stroke="#5e4a2c" stroke-opacity="0.16" stroke-width="1.8"/>
<path d="M562.8,409.9 C573.2,415.1 605.6,432.0 625.1,441.3 C644.6,450.6 662.9,458.8 679.7,465.8 C696.5,472.9 712.2,478.6 725.9,483.5 C739.6,488.4 751.8,492.2 762.0,495.2 C772.2,498.2 780.6,500.1 787.1,501.2 C793.5,502.4 798.0,502.6 800.7,501.8 C803.5,501.1 804.2,499.5 803.4,496.8 C802.6,494.2 799.9,490.7 795.8,486.1 C791.7,481.6 785.9,476.0 778.8,469.5 C771.6,462.9 762.9,455.5 752.8,446.8 C742.6,438.2 731.2,428.4 717.9,417.7 C704.6,407.1 680.4,388.7 672.9,382.9" stroke="#f6ead0" stroke-opacity="0.14" stroke-width="2.0"/>
<path d="M547.9,413.3 C560.5,419.1 599.8,437.7 623.2,448.0 C646.6,458.3 668.5,467.3 688.3,475.1 C708.1,482.9 726.1,489.4 741.8,495.0 C757.5,500.5 771.1,504.9 782.5,508.3 C793.9,511.7 803.0,514.1 810.3,515.4 C817.5,516.7 822.5,516.9 825.8,516.0 C829.2,515.1 830.5,513.1 830.3,509.9 C830.1,506.8 828.1,502.5 824.4,497.0 C820.8,491.5 815.5,484.9 808.4,477.2 C801.2,469.5 792.4,460.7 781.4,450.7 C770.4,440.8 757.6,429.7 742.3,417.7 C726.9,405.7 698.2,385.1 689.3,378.6" stroke="#5e4a2c" stroke-opacity="0.16" stroke-width="2.2"/>
<path d="M542.2,414.5 C556.4,421.0 601.5,441.6 627.8,453.2 C654.1,464.7 678.2,474.8 699.9,483.6 C721.5,492.5 740.7,500.1 757.6,506.4 C774.5,512.8 788.9,518.0 801.3,521.9 C813.7,525.8 823.8,528.4 832.1,529.8 C840.4,531.1 846.6,531.1 851.1,529.9 C855.5,528.7 858.2,526.2 858.9,522.4 C859.6,518.6 858.6,513.5 855.2,507.2 C851.9,500.9 846.7,493.2 838.8,484.6 C830.9,475.9 820.9,466.1 807.9,455.2 C794.9,444.3 779.3,432.2 760.8,419.1 C742.3,406.0 707.5,383.7 696.8,376.6" stroke="#f6ead0" stroke-opacity="0.14" stroke-width="2.5"/>
<path d="M625.0,597.8 C620.1,594.1 604.3,582.4 595.4,575.7 C586.4,569.0 578.3,562.9 571.2,557.5 C564.1,552.1 557.9,547.3 552.7,543.2 C547.5,539.1 543.2,535.6 540.0,532.8 C536.7,530.0 534.5,527.9 533.2,526.4 C532.0,524.9 531.7,524.0 532.4,523.8 C533.1,523.6 534.8,524.1 537.4,525.2 C540.1,526.4 543.6,528.2 548.1,530.7 C552.6,533.1 558.0,536.3 564.3,540.1 C570.6,543.9 577.8,548.4 585.9,553.5 C594.1,558.6 603.0,564.5 613.1,570.9 C623.1,577.3 640.5,588.4 646.0,591.9" stroke="#5e4a2c" stroke-opacity="0.16" stroke-width="1.2"/>
<path d="M616.3,602.0 C610.2,597.4 590.8,582.9 580.0,574.6 C569.1,566.2 559.4,558.5 551.0,551.7 C542.5,544.9 535.4,538.8 529.5,533.6 C523.6,528.3 519.0,523.9 515.7,520.2 C512.3,516.6 510.2,513.8 509.3,511.7 C508.4,509.7 508.7,508.5 510.1,508.2 C511.5,507.8 514.0,508.3 517.7,509.6 C521.3,510.9 526.0,513.0 531.8,516.0 C537.6,519.0 544.5,522.8 552.5,527.5 C560.6,532.1 569.6,537.7 580.0,543.9 C590.4,550.2 601.9,557.3 614.9,565.0 C627.9,572.8 650.7,586.2 657.8,590.5" stroke="#f6ead0" stroke-opacity="0.14" stroke-width="1.5"/>
<path d="M603.1,607.5 C596.1,601.9 573.5,584.5 561.2,574.3 C548.8,564.1 538.1,554.8 528.9,546.4 C519.7,538.0 512.1,530.5 505.9,524.0 C499.8,517.6 495.2,512.0 491.9,507.5 C488.5,502.9 486.7,499.3 486.1,496.7 C485.4,494.2 486.1,492.6 488.0,492.1 C489.9,491.7 493.0,492.2 497.4,493.8 C501.8,495.4 507.4,498.0 514.4,501.6 C521.5,505.2 529.9,509.7 539.9,515.1 C549.9,520.6 561.3,527.0 574.4,534.3 C587.6,541.5 602.3,549.7 618.8,558.6 C635.4,567.6 664.6,583.0 673.7,587.8" stroke="#5e4a2c" stroke-opacity="0.16" stroke-width="1.8"/>
<path d="M586.8,613.8 C579.4,607.2 555.3,586.3 542.2,574.0 C529.2,561.8 518.2,550.6 508.6,540.5 C499.0,530.5 491.2,521.6 484.7,513.8 C478.3,506.1 473.6,499.3 470.1,493.9 C466.6,488.5 464.5,484.3 463.8,481.4 C463.1,478.4 463.7,476.7 465.9,476.1 C468.1,475.6 471.6,476.2 476.9,478.0 C482.2,479.8 489.0,482.8 497.7,486.8 C506.4,490.9 516.7,496.2 529.2,502.3 C541.6,508.4 556.0,515.5 572.3,523.6 C588.7,531.8 607.0,541.0 627.3,551.0 C647.5,561.1 682.8,578.5 693.9,584.0" stroke="#f6ead0" stroke-opacity="0.14" stroke-width="2.0"/>
<path d="M574.4,619.0 C566.8,611.3 542.1,586.6 528.5,572.4 C515.0,558.1 503.3,545.0 493.0,533.4 C482.7,521.8 474.0,511.5 466.8,502.6 C459.6,493.7 453.8,486.1 449.6,480.0 C445.4,473.9 442.6,469.3 441.6,466.0 C440.7,462.7 441.2,460.7 443.8,460.1 C446.5,459.4 450.8,460.1 457.4,462.1 C463.9,464.0 472.4,467.2 483.1,471.6 C493.8,476.0 506.7,481.7 521.7,488.5 C536.7,495.3 553.9,503.2 573.1,512.3 C592.3,521.4 613.7,531.7 636.9,543.1 C660.1,554.5 699.6,574.4 712.1,580.7" stroke="#5e4a2c" stroke-opacity="0.16" stroke-width="2.2"/>
<path d="M570.9,621.8 C562.5,613.0 536.0,585.1 520.9,569.0 C505.7,553.0 492.1,538.5 480.1,525.6 C468.1,512.6 457.5,501.1 448.8,491.3 C440.1,481.4 432.9,473.2 427.9,466.5 C422.8,459.7 419.4,454.6 418.4,450.9 C417.4,447.1 418.4,444.9 421.8,444.1 C425.2,443.2 430.9,443.8 438.9,445.8 C446.9,447.8 457.4,451.2 470.0,456.0 C482.6,460.8 497.6,467.0 514.5,474.6 C531.5,482.2 550.7,491.3 571.7,501.6 C592.8,512.0 616.0,523.6 641.0,536.7 C666.0,549.7 708.2,572.6 721.6,579.8" stroke="#f6ead0" stroke-opacity="0.14" stroke-width="2.5"/>
<path d="M891.2,599.2 C896.4,601.8 913.1,610.0 922.6,614.7 C932.1,619.3 940.7,623.5 948.4,627.2 C956.1,630.9 962.8,634.1 968.8,636.8 C974.7,639.5 979.9,641.7 984.2,643.4 C988.5,645.1 992.0,646.2 994.7,646.9 C997.4,647.6 999.3,647.8 1000.3,647.5 C1001.3,647.2 1001.5,646.4 1000.7,645.1 C1000.0,643.8 998.4,642.1 995.8,639.9 C993.1,637.7 989.6,635.1 985.1,632.0 C980.6,628.8 975.1,625.2 968.6,621.2 C962.2,617.2 954.7,612.7 946.4,607.7 C938.0,602.8 923.2,594.1 918.6,591.3" stroke="#5e4a2c" stroke-opacity="0.16" stroke-width="1.2"/>
<path d="M879.8,604.6 C886.2,607.8 906.6,618.0 918.5,623.7 C930.4,629.4 941.2,634.6 951.2,639.0 C961.1,643.4 970.1,647.2 978.2,650.3 C986.4,653.4 993.6,655.8 999.9,657.6 C1006.1,659.4 1011.5,660.5 1015.8,661.1 C1020.0,661.7 1023.3,661.6 1025.4,661.0 C1027.4,660.3 1028.4,659.1 1028.1,657.4 C1027.7,655.6 1026.2,653.3 1023.4,650.5 C1020.6,647.7 1016.4,644.3 1011.2,640.4 C1005.9,636.5 999.3,632.0 991.8,626.9 C984.2,621.8 975.5,616.2 965.8,609.8 C956.2,603.5 939.3,592.4 934.0,588.9" stroke="#f6ead0" stroke-opacity="0.14" stroke-width="1.5"/>
<path d="M862.5,611.6 C870.4,615.4 894.9,627.5 909.6,634.2 C924.4,640.9 938.2,646.7 951.1,651.7 C964.0,656.6 976.0,660.7 986.8,664.0 C997.7,667.4 1007.5,669.9 1016.0,671.7 C1024.4,673.6 1031.8,674.7 1037.5,675.1 C1043.3,675.6 1047.7,675.3 1050.5,674.4 C1053.3,673.6 1054.7,672.1 1054.5,669.9 C1054.3,667.8 1052.5,665.0 1049.5,661.6 C1046.5,658.1 1041.9,654.0 1036.2,649.1 C1030.6,644.3 1023.5,638.8 1015.5,632.4 C1007.5,626.1 998.4,619.0 988.2,611.0 C978.1,603.1 960.2,589.3 954.6,585.0" stroke="#5e4a2c" stroke-opacity="0.16" stroke-width="1.8"/>
<path d="M841.3,619.8 C851.1,624.0 881.6,637.6 900.3,644.9 C918.9,652.2 936.8,658.4 953.2,663.7 C969.6,669.0 984.9,673.3 998.5,676.9 C1012.1,680.5 1024.3,683.1 1034.7,685.1 C1045.0,687.1 1053.7,688.2 1060.5,688.7 C1067.4,689.2 1072.3,688.9 1075.7,687.9 C1079.1,686.8 1080.6,685.1 1080.7,682.5 C1080.8,679.9 1079.3,676.6 1076.5,672.3 C1073.8,668.0 1069.6,662.9 1064.3,656.9 C1058.9,650.9 1052.4,644.0 1044.5,636.2 C1036.7,628.5 1027.7,619.8 1017.1,610.3 C1006.5,600.9 987.0,584.6 981.0,579.4" stroke="#f6ead0" stroke-opacity="0.14" stroke-width="2.0"/>
<path d="M825.1,626.6 C837.2,631.1 875.1,645.7 897.9,653.5 C920.7,661.4 942.3,668.0 961.8,673.8 C981.2,679.6 999.0,684.4 1014.5,688.5 C1030.1,692.5 1043.6,695.6 1055.2,697.9 C1066.7,700.2 1076.0,701.7 1083.6,702.3 C1091.2,702.8 1096.8,702.6 1100.9,701.3 C1105.0,700.0 1107.3,697.8 1108.3,694.6 C1109.4,691.4 1108.9,687.1 1107.0,681.9 C1105.2,676.7 1102.0,670.4 1097.2,663.2 C1092.4,656.0 1086.3,647.7 1078.0,638.7 C1069.8,629.6 1060.0,619.7 1047.8,609.0 C1035.6,598.3 1011.8,580.3 1004.6,574.6" stroke="#5e4a2c" stroke-opacity="0.16" stroke-width="2.2"/>
<path d="M820.4,630.0 C834.3,635.0 878.1,650.9 903.8,659.7 C929.4,668.5 953.0,676.1 974.1,682.8 C995.2,689.5 1013.9,695.3 1030.5,700.0 C1047.1,704.8 1061.2,708.6 1073.6,711.3 C1086.0,714.1 1096.1,715.8 1104.9,716.4 C1113.6,717.0 1120.5,716.4 1126.1,714.7 C1131.6,713.0 1135.6,710.1 1137.9,706.1 C1140.3,702.1 1141.3,696.9 1140.2,690.7 C1139.0,684.5 1136.4,677.2 1131.2,669.0 C1126.0,660.9 1118.9,651.7 1108.9,641.9 C1098.9,632.0 1086.5,621.3 1071.2,609.8 C1055.9,598.4 1026.1,579.2 1017.1,573.0" stroke="#f6ead0" stroke-opacity="0.14" stroke-width="2.5"/>
<path d="M680.5,360.7 C676.3,358.2 662.9,350.3 655.2,345.8 C647.6,341.2 640.7,337.2 634.6,333.5 C628.5,329.8 623.2,326.6 618.7,323.8 C614.3,321.1 610.6,318.7 607.8,316.8 C605.0,314.9 603.0,313.5 601.8,312.5 C600.7,311.5 600.4,310.9 600.9,310.8 C601.4,310.7 602.8,311.0 604.9,311.8 C607.0,312.6 610.0,313.8 613.7,315.5 C617.4,317.2 621.9,319.3 627.2,321.9 C632.5,324.5 638.5,327.5 645.3,331.0 C652.1,334.5 659.7,338.4 668.1,342.7 C676.5,347.1 691.2,354.6 695.8,357.0" stroke="#5e4a2c" stroke-opacity="0.16" stroke-width="1.2"/>
<path d="M667.5,359.6 C662.3,356.5 645.8,346.7 636.5,341.1 C627.2,335.4 618.8,330.2 611.6,325.6 C604.3,321.0 598.1,316.9 593.0,313.4 C587.9,309.8 583.9,306.7 580.9,304.3 C577.9,301.8 576.0,299.8 575.1,298.5 C574.1,297.1 574.2,296.3 575.2,296.1 C576.2,295.9 578.2,296.2 581.2,297.1 C584.1,298.0 587.9,299.5 592.7,301.6 C597.5,303.7 603.1,306.4 609.8,309.6 C616.5,312.7 624.0,316.5 632.7,320.7 C641.4,325.0 651.0,329.8 661.8,335.1 C672.6,340.3 691.6,349.5 697.6,352.4" stroke="#f6ead0" stroke-opacity="0.14" stroke-width="1.5"/>
<path d="M651.3,359.3 C645.3,355.6 626.0,343.8 615.3,336.9 C604.7,330.0 595.4,323.7 587.3,318.0 C579.3,312.3 572.7,307.1 567.2,302.7 C561.7,298.3 557.5,294.6 554.4,291.5 C551.3,288.5 549.5,286.1 548.6,284.4 C547.8,282.7 548.1,281.7 549.5,281.4 C550.8,281.1 553.3,281.5 556.8,282.6 C560.4,283.7 565.0,285.5 570.8,287.9 C576.6,290.3 583.6,293.5 591.8,297.2 C600.1,301.0 609.4,305.5 620.3,310.4 C631.2,315.4 643.4,321.0 657.0,327.1 C670.7,333.2 694.7,343.8 702.2,347.1" stroke="#5e4a2c" stroke-opacity="0.16" stroke-width="1.8"/>
<path d="M633.1,359.5 C626.6,355.0 605.6,340.8 594.2,332.6 C582.8,324.3 573.0,316.6 564.5,309.8 C556.0,303.0 548.9,296.9 543.1,291.7 C537.2,286.5 532.7,282.1 529.3,278.5 C525.9,274.9 523.8,272.1 522.8,270.2 C521.9,268.2 522.2,267.1 523.7,266.8 C525.3,266.4 528.1,266.9 532.4,268.2 C536.6,269.4 542.1,271.4 549.3,274.2 C556.4,276.9 565.0,280.4 575.2,284.6 C585.4,288.9 597.1,293.8 610.5,299.5 C623.8,305.1 638.9,311.4 655.4,318.3 C672.0,325.3 700.9,337.3 710.0,341.1" stroke="#f6ead0" stroke-opacity="0.14" stroke-width="2.0"/>
<path d="M617.7,358.9 C610.9,353.7 589.0,337.0 576.9,327.3 C564.8,317.7 554.4,308.7 545.1,300.9 C535.8,293.0 527.8,286.1 521.2,280.2 C514.5,274.2 509.1,269.3 505.1,265.3 C501.1,261.2 498.3,258.1 497.1,256.0 C496.0,253.8 496.1,252.5 498.0,252.1 C499.9,251.7 503.3,252.2 508.5,253.6 C513.7,254.9 520.6,257.1 529.3,260.1 C538.0,263.1 548.5,266.9 560.7,271.6 C572.9,276.3 587.0,281.8 602.6,288.1 C618.3,294.4 635.7,301.6 654.6,309.5 C673.5,317.4 705.9,331.1 716.1,335.5" stroke="#5e4a2c" stroke-opacity="0.16" stroke-width="2.2"/>
<path d="M608.7,356.8 C601.2,350.9 577.5,332.0 564.0,321.1 C550.5,310.2 538.3,300.3 527.6,291.5 C516.8,282.8 507.2,275.2 499.3,268.6 C491.3,262.1 484.7,256.6 480.0,252.2 C475.2,247.7 471.9,244.3 470.6,241.9 C469.4,239.4 469.8,238.0 472.2,237.5 C474.7,237.0 479.1,237.4 485.4,238.8 C491.8,240.2 500.1,242.6 510.3,245.9 C520.4,249.2 532.6,253.4 546.4,258.6 C560.2,263.8 576.0,269.9 593.2,277.1 C610.4,284.3 629.3,292.5 649.8,301.5 C670.3,310.6 705.0,326.3 716.0,331.3" stroke="#f6ead0" stroke-opacity="0.14" stroke-width="2.5"/>
</g>
<g fill="none">
<path d="M390.6,414.5 C394.0,417.0 404.4,424.7 411.2,429.8 C418.1,434.8 425.0,439.9 431.9,444.9 C438.8,450.0 445.6,455.1 452.5,460.1 C459.3,465.2 466.1,470.2 472.9,475.3 C479.8,480.4 490.0,488.0 493.4,490.5" stroke="#fff6e2" stroke-opacity="0.22" stroke-width="1.5"/>
<path d="M1059.5,543.0 C1063.7,545.0 1076.3,551.2 1084.8,555.1 C1093.3,559.1 1101.8,563.0 1110.4,566.9 C1118.9,570.8 1127.5,574.7 1136.1,578.6 C1144.7,582.5 1153.3,586.4 1162.0,590.3 C1170.7,594.1 1183.7,599.9 1188.1,601.8" stroke="#5e4a2c" stroke-opacity="0.18" stroke-width="0.7"/>
<path d="M460.7,235.7 C469.2,240.7 494.5,255.6 511.8,265.5 C529.1,275.3 546.6,285.2 564.4,294.9 C582.2,304.7 600.3,314.4 618.5,323.9 C636.8,333.4 655.5,342.8 674.1,352.0 C692.7,361.3 720.9,374.8 730.3,379.4" stroke="#5e4a2c" stroke-opacity="0.23" stroke-width="1.3"/>
<path d="M1039.8,552.0 C1043.0,553.5 1052.5,558.2 1058.9,561.2 C1065.2,564.2 1071.6,567.2 1078.0,570.2 C1084.4,573.2 1090.8,576.2 1097.2,579.1 C1103.6,582.1 1110.0,585.1 1116.4,588.1 C1122.8,591.1 1132.5,595.5 1135.7,597.0" stroke="#fff6e2" stroke-opacity="0.19" stroke-width="0.7"/>
<path d="M752.5,343.5 C763.9,348.9 798.8,365.0 820.8,376.0 C842.9,387.1 864.0,398.4 884.9,409.6 C905.7,420.8 925.6,432.1 946.0,443.3 C966.3,454.6 985.9,466.2 1006.8,477.1 C1027.7,488.0 1060.6,503.4 1071.4,508.7" stroke="#5e4a2c" stroke-opacity="0.14" stroke-width="1.1"/>
<path d="M390.1,299.1 C398.4,304.8 423.5,322.0 440.2,333.5 C456.8,345.0 473.3,356.7 490.2,368.0 C507.0,379.3 524.1,390.3 541.2,401.3 C558.4,412.4 575.7,423.2 593.1,434.1 C610.4,445.0 636.7,461.3 645.5,466.7" stroke="#fff6e2" stroke-opacity="0.26" stroke-width="1.5"/>
<path d="M453.6,381.6 C459.2,385.6 476.0,397.7 487.2,405.7 C498.3,413.8 509.4,421.8 520.5,429.8 C531.6,437.8 542.7,445.8 554.0,453.8 C565.2,461.7 576.5,469.7 588.0,477.6 C599.6,485.4 617.5,496.9 623.4,500.8" stroke="#5e4a2c" stroke-opacity="0.23" stroke-width="1.2"/>
<path d="M534.1,581.4 C543.6,588.2 571.8,608.8 590.9,622.3 C610.1,635.9 629.4,649.3 648.9,662.6 C668.4,675.9 688.0,689.1 707.8,702.2 C727.5,715.3 747.5,728.1 767.4,741.0 C787.2,753.9 817.0,773.0 826.9,779.5" stroke="#fff6e2" stroke-opacity="0.14" stroke-width="0.7"/>
<path d="M945.1,650.2 C949.3,652.7 961.9,660.2 970.2,665.2 C978.6,670.1 987.0,675.1 995.3,680.1 C1003.7,685.1 1012.0,690.1 1020.4,695.1 C1028.8,700.0 1037.2,705.0 1045.6,710.0 C1054.0,714.9 1066.7,722.3 1070.9,724.8" stroke="#fff6e2" stroke-opacity="0.17" stroke-width="0.7"/>
<path d="M266.7,407.2 C272.2,411.7 288.7,425.3 299.8,434.2 C311.0,443.1 322.3,451.9 333.5,460.8 C344.8,469.6 356.1,478.3 367.4,487.1 C378.6,495.9 389.8,504.8 401.0,513.5 C412.2,522.3 428.9,535.4 434.4,539.8" stroke="#5e4a2c" stroke-opacity="0.19" stroke-width="1.0"/>
<path d="M649.9,688.6 C654.4,691.9 668.0,701.6 677.0,708.1 C686.1,714.5 695.1,721.0 704.3,727.4 C713.4,733.7 722.6,740.0 731.8,746.3 C741.0,752.6 750.2,759.0 759.5,765.2 C768.7,771.5 782.7,780.9 787.3,784.0" stroke="#5e4a2c" stroke-opacity="0.09" stroke-width="1.5"/>
<path d="M323.2,432.8 C335.4,442.1 372.1,470.0 396.5,488.4 C420.9,506.9 445.3,525.4 469.6,543.6 C493.8,561.9 518.0,579.9 542.1,598.0 C566.2,616.0 589.9,634.0 614.0,651.8 C638.1,669.6 674.4,696.0 686.5,704.8" stroke="#5e4a2c" stroke-opacity="0.20" stroke-width="1.4"/>
<path d="M326.3,333.9 C337.4,342.2 370.5,367.6 392.9,384.1 C415.4,400.5 438.1,416.6 460.7,432.7 C483.4,448.8 506.1,464.8 528.9,480.6 C551.8,496.5 574.7,512.3 597.8,527.9 C620.9,543.4 656.0,566.4 667.6,574.1" stroke="#5e4a2c" stroke-opacity="0.08" stroke-width="0.7"/>
<path d="M418.2,276.6 C423.7,280.1 440.3,290.5 451.4,297.5 C462.5,304.4 473.6,311.4 484.6,318.4 C495.7,325.3 506.7,332.4 517.7,339.3 C528.8,346.3 539.8,353.1 551.0,360.0 C562.1,366.8 578.8,376.9 584.4,380.3" stroke="#5e4a2c" stroke-opacity="0.20" stroke-width="0.6"/>
<path d="M392.2,487.9 C396.6,491.4 409.9,502.1 418.8,509.2 C427.6,516.2 436.5,523.3 445.6,530.3 C454.6,537.2 463.8,544.1 472.9,551.0 C482.1,557.8 491.4,564.7 500.7,571.5 C510.0,578.3 524.1,588.4 528.7,591.8" stroke="#5e4a2c" stroke-opacity="0.12" stroke-width="0.6"/>
<path d="M370.5,275.8 C378.1,280.9 400.8,296.0 415.9,306.1 C431.0,316.2 446.0,326.4 461.1,336.5 C476.2,346.6 491.2,356.8 506.3,366.7 C521.5,376.6 536.8,386.4 552.1,396.1 C567.4,405.9 590.5,420.3 598.1,425.2" stroke="#5e4a2c" stroke-opacity="0.08" stroke-width="1.2"/>
<path d="M742.2,415.6 C747.2,418.2 762.2,426.0 772.2,431.2 C782.2,436.4 792.3,441.6 802.3,446.7 C812.2,451.8 822.2,457.0 832.1,462.1 C842.0,467.2 851.9,472.4 861.7,477.5 C871.5,482.7 886.0,490.5 890.9,493.0" stroke="#5e4a2c" stroke-opacity="0.26" stroke-width="1.0"/>
<path d="M666.5,331.8 C675.9,336.8 703.9,351.7 722.5,361.5 C741.1,371.3 759.6,381.1 778.0,390.9 C796.4,400.7 814.6,410.6 832.9,420.4 C851.3,430.1 869.6,439.7 888.0,449.3 C906.4,458.9 934.1,473.3 943.3,478.1" stroke="#5e4a2c" stroke-opacity="0.26" stroke-width="1.3"/>
<path d="M411.2,361.2 C413.9,363.1 421.8,368.8 427.1,372.5 C432.4,376.3 437.7,380.1 443.1,383.8 C448.5,387.5 453.9,391.2 459.3,394.8 C464.7,398.5 470.1,402.2 475.5,405.9 C480.9,409.5 489.0,415.0 491.7,416.8" stroke="#5e4a2c" stroke-opacity="0.27" stroke-width="0.6"/>
<path d="M561.3,348.6 C570.2,353.8 596.5,369.6 614.4,379.8 C632.3,390.1 650.4,400.2 668.7,410.3 C686.9,420.4 705.3,430.5 723.9,440.4 C742.5,450.3 761.3,460.0 780.1,469.8 C798.9,479.5 827.3,494.0 836.8,498.8" stroke="#5e4a2c" stroke-opacity="0.14" stroke-width="1.6"/>
<path d="M374.3,312.8 C388.5,322.1 431.1,350.3 459.2,368.8 C487.3,387.2 515.5,405.1 543.0,423.4 C570.5,441.6 597.4,459.9 624.2,478.0 C651.0,496.1 677.3,514.2 703.9,532.1 C730.5,549.9 770.4,576.4 783.7,585.2" stroke="#5e4a2c" stroke-opacity="0.09" stroke-width="1.6"/>
<path d="M292.5,379.9 C295.2,382.2 303.3,389.0 308.7,393.6 C314.1,398.2 319.4,402.8 324.9,407.3 C330.4,411.8 336.1,416.1 341.6,420.5 C347.2,424.9 352.8,429.3 358.5,433.7 C364.1,438.1 372.6,444.6 375.5,446.8" stroke="#5e4a2c" stroke-opacity="0.25" stroke-width="0.8"/>
<path d="M443.8,516.2 C450.1,521.0 468.9,535.3 481.5,544.8 C494.1,554.3 506.7,563.8 519.3,573.2 C531.9,582.7 544.5,592.0 557.1,601.4 C569.7,610.8 582.4,620.1 595.0,629.3 C607.7,638.6 626.7,652.5 633.0,657.1" stroke="#5e4a2c" stroke-opacity="0.29" stroke-width="0.8"/>
<path d="M1032.1,489.9 C1043.0,494.8 1075.6,509.7 1097.3,519.6 C1119.0,529.5 1140.6,539.3 1162.2,549.1 C1183.7,558.8 1205.3,568.4 1226.7,578.0 C1248.1,587.7 1269.5,597.5 1290.7,607.2 C1312.0,616.9 1343.7,631.6 1354.3,636.5" stroke="#5e4a2c" stroke-opacity="0.24" stroke-width="1.3"/>
<path d="M1078.6,546.5 C1086.9,549.8 1111.5,559.9 1128.1,566.5 C1144.8,573.1 1161.9,579.5 1178.6,586.0 C1195.3,592.5 1212.2,598.9 1228.6,605.5 C1244.9,612.1 1261.1,618.8 1276.7,625.6 C1292.3,632.4 1314.7,643.0 1322.3,646.5" stroke="#5e4a2c" stroke-opacity="0.20" stroke-width="1.3"/>
<path d="M1010.6,523.2 C1020.2,527.7 1049.1,541.1 1068.2,550.0 C1087.4,558.8 1106.5,567.5 1125.4,576.3 C1144.2,585.1 1162.8,593.9 1181.3,602.7 C1199.7,611.6 1217.9,620.6 1236.1,629.5 C1254.4,638.4 1281.6,651.8 1290.7,656.3" stroke="#5e4a2c" stroke-opacity="0.09" stroke-width="1.5"/>
<path d="M467.2,417.9 C469.7,419.8 477.1,425.3 482.1,429.0 C487.1,432.6 492.2,436.3 497.3,439.9 C502.5,443.6 507.7,447.2 512.9,450.8 C518.2,454.4 523.5,458.0 528.9,461.6 C534.2,465.1 542.4,470.5 545.1,472.3" stroke="#5e4a2c" stroke-opacity="0.19" stroke-width="0.5"/>
<path d="M709.6,392.4 C719.0,397.6 747.0,413.4 765.9,423.7 C784.8,434.1 803.8,444.4 823.0,454.5 C842.1,464.7 861.4,474.9 880.8,484.9 C900.2,494.8 919.7,504.7 939.3,514.5 C958.8,524.2 988.3,538.6 998.1,543.5" stroke="#fff6e2" stroke-opacity="0.19" stroke-width="1.2"/>
<path d="M612.0,587.8 C616.4,591.1 629.6,601.0 638.5,607.5 C647.4,614.1 656.3,620.7 665.3,627.2 C674.3,633.7 683.4,640.2 692.6,646.6 C701.8,653.0 711.1,659.4 720.5,665.7 C729.9,672.1 744.3,681.4 749.1,684.6" stroke="#5e4a2c" stroke-opacity="0.16" stroke-width="1.2"/>
<path d="M814.0,440.2 C824.8,446.1 857.1,463.9 878.9,475.5 C900.7,487.2 922.5,498.8 944.6,510.2 C966.8,521.5 989.2,532.7 1011.8,543.7 C1034.4,554.7 1057.3,565.6 1080.3,576.4 C1103.3,587.1 1138.2,602.9 1149.8,608.2" stroke="#5e4a2c" stroke-opacity="0.22" stroke-width="0.6"/>
<path d="M364.9,464.0 C372.2,469.6 394.2,486.6 408.9,497.8 C423.6,509.0 438.3,520.3 453.1,531.4 C468.0,542.4 483.0,553.4 497.9,564.3 C512.9,575.2 527.9,586.1 542.8,596.9 C557.8,607.7 580.3,623.8 587.8,629.2" stroke="#5e4a2c" stroke-opacity="0.23" stroke-width="1.6"/>
<path d="M528.8,412.9 C532.4,415.2 543.2,422.1 550.5,426.6 C557.7,431.2 565.0,435.7 572.2,440.3 C579.5,444.8 586.7,449.4 594.0,453.9 C601.3,458.5 608.5,463.1 615.8,467.6 C623.1,472.1 634.1,478.9 637.7,481.1" stroke="#5e4a2c" stroke-opacity="0.10" stroke-width="1.5"/>
<path d="M347.5,485.0 C360.7,495.0 400.0,525.3 426.7,544.9 C453.5,564.6 481.3,583.7 508.1,603.0 C534.9,622.3 561.7,641.5 587.5,660.8 C613.4,680.1 638.3,699.6 663.4,718.8 C688.5,738.1 725.6,766.7 738.1,776.3" stroke="#5e4a2c" stroke-opacity="0.29" stroke-width="1.6"/>
<path d="M396.0,485.0 C409.7,494.2 450.8,522.2 477.7,540.7 C504.7,559.2 532.0,577.3 557.9,595.7 C583.8,614.1 608.6,632.7 632.9,651.3 C657.2,669.9 680.0,688.9 703.7,707.5 C727.4,726.0 763.1,753.5 775.0,762.7" stroke="#5e4a2c" stroke-opacity="0.10" stroke-width="0.6"/>
<path d="M682.8,328.6 C687.4,331.0 701.2,338.3 710.5,343.0 C719.8,347.7 729.1,352.4 738.5,357.1 C747.8,361.7 757.3,366.4 766.7,371.0 C776.1,375.7 785.6,380.3 795.1,384.9 C804.6,389.5 818.8,396.4 823.6,398.7" stroke="#5e4a2c" stroke-opacity="0.24" stroke-width="1.5"/>
<path d="M263.3,383.7 C268.7,388.2 284.7,401.7 295.3,410.5 C305.9,419.4 316.6,428.0 327.0,436.7 C337.4,445.4 347.7,454.1 358.0,462.8 C368.2,471.5 378.3,480.3 388.5,489.0 C398.7,497.7 414.0,510.8 419.1,515.1" stroke="#5e4a2c" stroke-opacity="0.28" stroke-width="0.9"/>
<path d="M378.5,385.5 C384.7,390.3 403.6,404.8 415.8,414.5 C427.9,424.2 439.7,433.8 451.5,443.5 C463.4,453.2 474.9,462.9 486.7,472.6 C498.5,482.3 510.2,492.1 522.6,501.6 C534.9,511.0 554.4,524.8 560.8,529.5" stroke="#5e4a2c" stroke-opacity="0.28" stroke-width="1.6"/>
<path d="M148.0,217.4 C157.1,224.9 184.1,247.6 202.5,262.4 C220.9,277.2 239.4,291.7 258.1,306.3 C276.8,320.9 295.7,335.2 314.5,349.7 C333.3,364.2 351.9,379.0 371.0,393.3 C390.1,407.5 419.6,428.2 429.3,435.2" stroke="#5e4a2c" stroke-opacity="0.14" stroke-width="1.2"/>
<path d="M840.9,658.4 C846.2,661.4 862.2,670.3 873.0,676.2 C883.8,682.1 894.7,687.9 905.5,693.7 C916.3,699.6 927.2,705.4 938.0,711.2 C948.8,717.0 959.5,722.8 970.2,728.7 C980.8,734.6 996.6,743.4 1001.8,746.4" stroke="#fff6e2" stroke-opacity="0.27" stroke-width="1.4"/>
<path d="M487.4,605.3 C494.4,610.5 515.2,626.1 529.0,636.5 C542.9,646.9 556.6,657.3 570.4,667.6 C584.3,678.0 598.1,688.1 611.9,698.4 C625.7,708.7 639.4,719.0 653.1,729.2 C666.9,739.4 687.7,754.4 694.6,759.5" stroke="#5e4a2c" stroke-opacity="0.28" stroke-width="1.3"/>
<path d="M367.9,326.5 C373.1,330.1 388.4,340.8 398.7,348.0 C409.0,355.1 419.2,362.4 429.6,369.4 C440.0,376.5 450.5,383.4 461.0,390.4 C471.5,397.3 482.1,404.2 492.7,411.0 C503.3,417.9 519.2,428.0 524.5,431.4" stroke="#5e4a2c" stroke-opacity="0.13" stroke-width="1.3"/>
<path d="M471.0,548.0 C473.7,550.1 481.9,556.3 487.4,560.4 C492.8,564.6 498.2,568.7 503.6,572.8 C509.0,577.0 514.3,581.1 519.6,585.3 C524.9,589.4 530.2,593.6 535.5,597.7 C540.7,601.9 548.6,608.1 551.2,610.1" stroke="#5e4a2c" stroke-opacity="0.18" stroke-width="1.1"/>
<path d="M566.8,458.0 C572.3,461.2 588.6,470.9 599.6,477.3 C610.6,483.7 621.8,489.9 632.9,496.2 C644.0,502.4 655.1,508.7 666.2,514.9 C677.2,521.2 688.3,527.4 699.2,533.7 C710.1,539.9 726.3,549.3 731.7,552.4" stroke="#5e4a2c" stroke-opacity="0.13" stroke-width="0.7"/>
<path d="M989.1,479.8 C997.0,483.7 1020.5,495.7 1036.6,503.6 C1052.7,511.4 1069.0,519.3 1085.7,527.0 C1102.3,534.6 1119.3,542.2 1136.6,549.6 C1153.9,556.9 1171.6,564.0 1189.4,571.2 C1207.2,578.3 1234.4,588.8 1243.3,592.3" stroke="#5e4a2c" stroke-opacity="0.14" stroke-width="1.0"/>
<path d="M504.6,348.1 C515.6,354.9 548.5,375.2 570.7,388.5 C592.9,401.8 615.6,414.8 638.0,427.9 C660.4,441.0 682.8,454.1 705.1,467.1 C727.3,480.1 749.6,492.9 771.6,505.7 C793.7,518.6 826.4,537.7 837.3,544.1" stroke="#5e4a2c" stroke-opacity="0.28" stroke-width="1.1"/>
<path d="M401.8,339.3 C413.6,347.5 448.9,372.3 472.6,388.5 C496.2,404.7 519.9,420.4 543.5,436.3 C567.1,452.3 590.4,468.3 614.2,484.0 C637.9,499.6 661.8,515.1 686.0,530.4 C710.2,545.7 747.2,568.2 759.5,575.8" stroke="#5e4a2c" stroke-opacity="0.24" stroke-width="1.6"/>
<path d="M245.0,168.0 C252.1,172.6 273.3,186.3 287.4,195.5 C301.4,204.6 315.4,213.8 329.3,223.0 C343.2,232.2 356.9,241.4 370.8,250.6 C384.6,259.7 398.5,268.8 412.2,277.9 C425.9,287.0 446.4,300.8 453.2,305.4" stroke="#fff6e2" stroke-opacity="0.28" stroke-width="1.5"/>
<path d="M406.8,481.1 C416.1,488.4 443.7,510.6 462.3,525.2 C480.9,539.7 499.5,554.1 518.2,568.4 C536.9,582.7 555.7,596.9 574.6,611.1 C593.5,625.2 612.4,639.3 631.7,653.2 C650.9,667.1 680.2,687.7 689.9,694.6" stroke="#5e4a2c" stroke-opacity="0.25" stroke-width="1.5"/>
<path d="M258.5,189.1 C269.5,196.4 302.2,218.4 324.3,232.8 C346.4,247.3 368.6,261.7 390.9,276.0 C413.2,290.4 435.7,304.7 458.1,319.0 C480.6,333.2 502.9,347.7 525.5,361.7 C548.1,375.7 582.4,396.2 593.8,403.1" stroke="#5e4a2c" stroke-opacity="0.18" stroke-width="1.6"/>
<path d="M781.8,667.2 C786.5,669.9 800.3,678.1 809.7,683.5 C819.1,688.8 828.6,694.1 838.0,699.3 C847.5,704.6 857.0,709.9 866.6,715.1 C876.1,720.4 885.7,725.6 895.2,730.8 C904.8,736.0 919.1,743.8 923.9,746.4" stroke="#5e4a2c" stroke-opacity="0.20" stroke-width="0.8"/>
<path d="M720.6,614.0 C725.2,617.3 739.1,627.3 748.3,633.8 C757.6,640.4 766.9,647.0 776.3,653.5 C785.7,660.0 795.1,666.6 804.6,673.0 C814.2,679.5 823.8,685.9 833.5,692.2 C843.2,698.6 858.1,708.0 863.1,711.1" stroke="#5e4a2c" stroke-opacity="0.29" stroke-width="1.1"/>
<path d="M315.6,487.2 C324.9,494.6 352.4,516.9 370.9,531.6 C389.5,546.3 408.2,560.7 426.8,575.2 C445.5,589.6 464.2,603.9 482.7,618.2 C501.2,632.5 519.5,646.9 537.9,661.1 C556.2,675.4 583.5,696.6 592.6,703.7" stroke="#5e4a2c" stroke-opacity="0.17" stroke-width="1.0"/>
<path d="M856.4,495.4 C863.6,499.2 885.2,510.7 899.6,518.2 C914.0,525.7 928.5,533.1 942.9,540.6 C957.3,548.1 971.7,555.5 986.2,562.9 C1000.6,570.3 1015.0,577.7 1029.5,585.0 C1043.9,592.3 1065.6,603.2 1072.8,606.8" stroke="#fff6e2" stroke-opacity="0.23" stroke-width="0.9"/>
<path d="M664.3,280.3 C678.0,287.5 719.1,309.3 746.9,323.4 C774.7,337.6 802.6,351.4 830.9,365.2 C859.1,379.0 887.7,392.7 916.6,406.1 C945.4,419.6 974.7,432.8 1003.8,445.9 C1033.0,458.9 1077.0,478.1 1091.6,484.5" stroke="#5e4a2c" stroke-opacity="0.28" stroke-width="0.8"/>
<path d="M948.7,587.0 C955.7,590.7 976.9,601.8 990.9,609.2 C1005.0,616.6 1019.1,624.0 1033.1,631.3 C1047.2,638.7 1061.3,646.0 1075.4,653.3 C1089.4,660.6 1103.5,667.9 1117.5,675.2 C1131.5,682.6 1152.6,693.5 1159.6,697.2" stroke="#fff6e2" stroke-opacity="0.13" stroke-width="1.5"/>
<path d="M522.6,204.5 C525.7,206.1 535.0,210.9 541.2,214.2 C547.4,217.4 553.6,220.6 559.8,223.8 C566.0,227.0 572.1,230.3 578.3,233.6 C584.5,236.9 590.6,240.2 596.8,243.4 C602.9,246.7 612.1,251.6 615.2,253.2" stroke="#5e4a2c" stroke-opacity="0.24" stroke-width="0.6"/>
<path d="M126.8,299.2 C130.7,302.4 142.3,312.2 150.2,318.8 C158.0,325.3 166.0,331.8 173.9,338.3 C181.9,344.7 189.9,351.2 198.0,357.7 C206.1,364.1 214.2,370.5 222.3,377.0 C230.4,383.5 242.6,393.2 246.7,396.5" stroke="#fff6e2" stroke-opacity="0.11" stroke-width="1.2"/>
<path d="M387.4,355.8 C391.3,358.7 403.2,367.5 411.1,373.2 C419.1,378.9 427.0,384.6 435.0,390.3 C443.0,396.0 450.9,401.6 458.9,407.2 C466.9,412.8 474.9,418.4 482.8,423.9 C490.8,429.5 502.7,437.9 506.7,440.6" stroke="#5e4a2c" stroke-opacity="0.17" stroke-width="0.5"/>
<path d="M612.6,336.1 C625.0,343.2 661.7,364.6 686.8,378.6 C712.0,392.5 737.7,406.3 763.7,419.8 C789.7,433.4 816.4,446.7 843.0,459.9 C869.5,473.1 896.5,486.3 923.1,499.2 C949.6,512.1 989.2,531.1 1002.5,537.4" stroke="#5e4a2c" stroke-opacity="0.24" stroke-width="0.8"/>
<path d="M411.5,344.7 C422.4,352.2 454.7,375.1 477.0,389.9 C499.3,404.6 522.3,418.9 545.2,433.3 C568.1,447.6 591.4,462.0 614.6,476.1 C637.9,490.1 661.6,504.0 684.9,517.8 C708.2,531.6 743.1,552.2 754.7,559.1" stroke="#5e4a2c" stroke-opacity="0.22" stroke-width="1.0"/>
<path d="M783.8,571.8 C786.7,573.6 795.3,578.8 801.1,582.3 C806.9,585.9 812.7,589.4 818.6,592.8 C824.4,596.3 830.3,599.8 836.1,603.2 C842.0,606.7 847.9,610.2 853.8,613.6 C859.7,617.0 868.6,622.2 871.5,623.9" stroke="#fff6e2" stroke-opacity="0.16" stroke-width="0.7"/>
<path d="M451.6,295.3 C463.1,302.4 497.7,323.7 520.8,337.6 C543.9,351.6 567.2,365.3 590.2,379.0 C613.2,392.8 636.1,406.2 658.8,419.8 C681.4,433.4 703.7,447.2 726.2,460.7 C748.7,474.2 782.6,494.1 793.9,500.8" stroke="#5e4a2c" stroke-opacity="0.24" stroke-width="0.8"/>
<path d="M446.0,173.0 C459.8,180.3 501.7,202.0 529.1,216.6 C556.5,231.3 583.5,246.2 610.6,261.0 C637.8,275.8 664.5,290.8 691.9,305.4 C719.2,320.0 746.8,334.3 774.9,348.5 C802.9,362.6 846.1,383.2 860.3,390.1" stroke="#fff6e2" stroke-opacity="0.17" stroke-width="0.6"/>
<path d="M898.6,622.6 C903.0,625.2 916.3,633.0 925.2,638.1 C934.1,643.3 943.0,648.5 952.0,653.6 C960.9,658.7 969.9,663.8 978.9,668.9 C987.9,674.0 996.9,679.1 1005.9,684.2 C1014.9,689.3 1028.5,696.8 1033.1,699.4" stroke="#fff6e2" stroke-opacity="0.24" stroke-width="1.4"/>
<path d="M377.7,378.6 C389.1,386.5 423.0,410.6 445.8,426.3 C468.7,442.0 492.0,457.4 514.9,472.9 C537.9,488.4 560.8,503.8 583.6,519.2 C606.3,534.5 628.8,549.8 651.3,565.0 C673.8,580.2 707.2,602.8 718.4,610.3" stroke="#5e4a2c" stroke-opacity="0.12" stroke-width="0.6"/>
<path d="M598.3,447.9 C602.3,450.5 614.6,458.4 622.8,463.6 C630.9,468.8 639.1,474.1 647.3,479.2 C655.5,484.4 663.8,489.5 672.1,494.6 C680.3,499.7 688.5,504.9 696.8,510.0 C705.1,515.1 717.5,522.7 721.6,525.3" stroke="#fff6e2" stroke-opacity="0.15" stroke-width="1.0"/>
<path d="M735.6,522.5 C743.7,527.1 768.2,540.8 784.3,550.0 C800.5,559.1 816.5,568.2 832.3,577.3 C848.2,586.4 863.9,595.6 879.4,604.7 C894.9,613.8 910.2,622.9 925.5,632.0 C940.7,641.1 963.4,654.8 970.9,659.3" stroke="#5e4a2c" stroke-opacity="0.28" stroke-width="0.8"/>
<path d="M937.4,500.3 C948.3,505.9 981.2,522.6 1003.1,533.7 C1025.0,544.8 1046.9,555.9 1068.9,566.9 C1090.8,577.8 1112.9,588.5 1134.9,599.2 C1157.0,609.9 1179.2,620.7 1201.4,631.3 C1223.6,642.0 1257.2,658.0 1268.4,663.3" stroke="#5e4a2c" stroke-opacity="0.16" stroke-width="0.8"/>
<path d="M266.5,324.1 C269.9,326.9 280.3,335.6 287.1,341.3 C294.0,347.0 300.8,352.8 307.6,358.6 C314.4,364.3 321.2,370.2 328.0,376.0 C334.7,381.8 341.5,387.6 348.3,393.4 C355.2,399.1 365.6,407.5 369.1,410.3" stroke="#5e4a2c" stroke-opacity="0.09" stroke-width="1.5"/>
<path d="M702.0,491.2 C705.4,493.3 715.8,499.5 722.8,503.6 C729.7,507.7 736.7,511.8 743.7,515.9 C750.6,520.0 757.6,524.1 764.6,528.1 C771.7,532.2 778.7,536.3 785.7,540.3 C792.8,544.3 803.4,550.2 806.9,552.2" stroke="#5e4a2c" stroke-opacity="0.18" stroke-width="1.0"/>
<path d="M409.3,164.7 C415.8,168.1 435.2,178.3 448.2,185.1 C461.1,191.9 474.1,198.8 487.0,205.6 C499.9,212.4 512.9,219.2 525.8,226.0 C538.7,232.8 551.5,239.8 564.4,246.6 C577.2,253.5 596.4,263.9 602.9,267.3" stroke="#5e4a2c" stroke-opacity="0.26" stroke-width="0.6"/>
<path d="M338.6,264.1 C348.1,270.5 376.6,289.5 395.7,302.2 C414.7,314.9 433.7,327.7 452.9,340.4 C472.0,353.0 491.1,365.7 510.4,378.0 C529.8,390.4 549.4,402.5 568.9,414.7 C588.4,426.8 617.8,444.9 627.6,450.9" stroke="#5e4a2c" stroke-opacity="0.21" stroke-width="1.4"/>
<path d="M246.2,258.7 C251.0,261.9 265.1,271.4 274.6,277.6 C284.1,283.9 293.8,290.0 303.3,296.2 C312.8,302.4 322.3,308.6 331.6,314.8 C340.9,321.1 350.2,327.3 359.3,333.6 C368.4,339.9 381.6,349.4 386.1,352.6" stroke="#fff6e2" stroke-opacity="0.26" stroke-width="0.8"/>
<path d="M432.5,372.7 C442.0,379.1 470.4,398.8 489.5,411.6 C508.5,424.5 527.7,437.2 546.8,450.0 C565.9,462.7 584.9,475.6 604.0,488.2 C623.2,500.8 642.6,513.2 661.9,525.6 C681.2,538.0 710.4,556.5 720.1,562.6" stroke="#fff6e2" stroke-opacity="0.20" stroke-width="0.6"/>
<path d="M552.8,463.1 C562.6,469.6 591.8,489.2 611.8,502.0 C631.7,514.8 652.0,527.5 672.3,540.0 C692.7,552.5 713.3,564.8 733.8,577.1 C754.3,589.4 775.0,601.6 795.4,613.7 C815.8,625.9 846.1,644.0 856.2,650.1" stroke="#5e4a2c" stroke-opacity="0.14" stroke-width="0.6"/>
<path d="M206.1,207.0 C217.1,214.8 250.2,238.5 272.4,254.0 C294.6,269.5 317.1,284.6 339.2,300.0 C361.2,315.3 383.2,330.7 404.9,346.1 C426.5,361.4 447.8,377.0 469.3,392.1 C490.8,407.3 522.9,429.6 533.7,437.1" stroke="#5e4a2c" stroke-opacity="0.27" stroke-width="1.5"/>
<path d="M569.1,580.1 C573.3,583.2 585.9,592.4 594.3,598.5 C602.7,604.7 611.2,610.8 619.7,616.9 C628.2,623.0 636.7,629.1 645.4,635.1 C654.0,641.1 662.8,647.1 671.6,653.0 C680.4,658.9 693.8,667.8 698.3,670.7" stroke="#5e4a2c" stroke-opacity="0.26" stroke-width="0.5"/>
<path d="M304.4,261.2 C306.6,262.7 313.0,267.4 317.3,270.5 C321.6,273.6 325.9,276.7 330.2,279.8 C334.5,282.9 338.8,286.1 343.1,289.2 C347.5,292.3 351.8,295.4 356.1,298.5 C360.4,301.6 366.9,306.3 369.1,307.9" stroke="#5e4a2c" stroke-opacity="0.22" stroke-width="1.1"/>
<path d="M241.4,355.4 C248.9,361.6 271.3,380.3 286.3,392.7 C301.3,405.0 316.2,417.3 331.3,429.4 C346.4,441.5 361.5,453.4 376.7,465.3 C391.8,477.3 406.9,489.2 422.1,501.1 C437.3,512.9 460.4,530.6 468.0,536.5" stroke="#5e4a2c" stroke-opacity="0.25" stroke-width="1.5"/>
<path d="M708.3,616.1 C710.9,617.7 718.5,622.8 723.7,626.1 C728.9,629.4 734.1,632.7 739.3,636.0 C744.5,639.3 749.7,642.6 755.0,645.9 C760.3,649.2 765.5,652.4 770.9,655.7 C776.2,658.9 784.2,663.8 786.8,665.4" stroke="#5e4a2c" stroke-opacity="0.28" stroke-width="1.5"/>
<path d="M898.1,553.8 C902.5,556.1 915.8,563.2 924.7,567.9 C933.6,572.6 942.4,577.3 951.2,581.9 C960.1,586.6 968.9,591.2 977.7,595.9 C986.5,600.5 995.3,605.1 1004.0,609.7 C1012.8,614.3 1025.9,621.3 1030.2,623.6" stroke="#5e4a2c" stroke-opacity="0.22" stroke-width="1.4"/>
<path d="M260.0,191.4 C273.8,200.5 314.7,228.2 342.7,246.2 C370.6,264.3 399.6,281.9 427.8,299.8 C456.1,317.7 484.2,335.8 512.1,353.5 C539.9,371.2 567.4,388.6 595.0,406.1 C622.6,423.5 663.7,449.5 677.5,458.1" stroke="#5e4a2c" stroke-opacity="0.13" stroke-width="0.7"/>
<path d="M370.8,517.9 C380.7,526.0 410.5,550.3 430.3,566.4 C450.1,582.4 469.7,598.3 489.5,614.2 C509.3,630.0 528.9,645.9 549.1,661.5 C569.2,677.1 589.6,692.5 610.4,707.8 C631.1,723.0 663.0,745.5 673.6,753.1" stroke="#5e4a2c" stroke-opacity="0.21" stroke-width="0.5"/>
<path d="M413.1,409.8 C421.8,416.1 447.5,435.1 464.9,447.6 C482.2,460.1 499.6,472.7 517.3,485.1 C535.0,497.4 552.9,509.7 571.0,521.8 C589.1,533.9 607.5,545.9 625.9,557.8 C644.3,569.7 672.3,587.2 681.6,593.1" stroke="#5e4a2c" stroke-opacity="0.18" stroke-width="1.0"/>
<path d="M370.5,295.1 C381.7,302.9 414.9,326.3 437.3,341.8 C459.6,357.3 481.9,372.8 504.7,387.9 C527.4,403.0 550.5,417.7 573.7,432.5 C596.9,447.3 620.2,462.1 643.8,476.6 C667.4,491.1 703.4,512.4 715.4,519.5" stroke="#fff6e2" stroke-opacity="0.25" stroke-width="1.4"/>
<path d="M402.5,375.2 C414.0,383.3 448.4,407.7 471.4,423.7 C494.5,439.7 517.5,455.6 540.6,471.4 C563.8,487.2 586.8,503.0 610.1,518.5 C633.4,534.1 656.7,549.6 680.3,564.8 C703.8,580.1 739.4,602.6 751.3,610.1" stroke="#5e4a2c" stroke-opacity="0.11" stroke-width="1.1"/>
<path d="M355.9,198.2 C367.9,205.5 403.5,227.3 427.8,241.7 C452.0,256.1 476.7,270.4 501.3,284.7 C525.9,299.0 550.7,313.4 575.5,327.6 C600.3,341.7 625.3,355.6 650.0,369.4 C674.7,383.2 711.5,403.7 723.8,410.5" stroke="#5e4a2c" stroke-opacity="0.09" stroke-width="1.5"/>
<path d="M126.9,275.5 C137.8,285.2 170.4,314.4 192.2,333.7 C214.1,353.0 235.7,372.3 258.1,391.3 C280.5,410.3 303.3,429.2 326.7,447.7 C350.0,466.1 374.3,484.0 398.2,502.0 C422.1,520.0 458.1,546.8 470.1,555.7" stroke="#5e4a2c" stroke-opacity="0.24" stroke-width="0.8"/>
<path d="M443.9,290.5 C450.3,294.4 469.6,306.2 482.4,314.1 C495.1,321.9 507.8,329.9 520.5,337.7 C533.2,345.6 545.9,353.3 558.6,361.1 C571.3,368.8 584.1,376.4 596.7,384.1 C609.4,391.7 628.4,403.1 634.7,406.9" stroke="#5e4a2c" stroke-opacity="0.19" stroke-width="1.2"/>
<path d="M449.1,459.3 C454.8,463.4 471.8,475.6 483.2,483.8 C494.6,491.9 506.0,500.1 517.5,508.1 C529.1,516.2 540.8,524.1 552.4,532.0 C564.1,539.9 575.8,547.8 587.6,555.6 C599.3,563.5 617.0,575.2 622.9,579.1" stroke="#5e4a2c" stroke-opacity="0.22" stroke-width="0.5"/>
<path d="M722.2,581.5 C727.6,584.8 743.7,594.8 754.6,601.5 C765.4,608.1 776.3,614.7 787.1,621.3 C798.0,627.8 808.9,634.4 819.8,640.9 C830.8,647.4 841.7,653.9 852.6,660.3 C863.5,666.8 880.0,676.4 885.5,679.6" stroke="#5e4a2c" stroke-opacity="0.16" stroke-width="1.3"/>
<path d="M922.5,585.3 C926.1,587.3 936.8,593.2 943.9,597.2 C951.0,601.1 958.1,605.0 965.2,609.0 C972.3,612.9 979.3,616.8 986.3,620.8 C993.3,624.7 1000.3,628.7 1007.3,632.6 C1014.3,636.5 1024.8,642.4 1028.3,644.3" stroke="#fff6e2" stroke-opacity="0.17" stroke-width="1.6"/>
<path d="M275.6,380.6 C278.4,382.8 287.0,389.5 292.7,394.0 C298.4,398.5 304.0,403.0 309.7,407.4 C315.5,411.8 321.3,416.0 327.1,420.4 C332.8,424.7 338.6,429.0 344.3,433.3 C350.0,437.6 358.6,444.1 361.5,446.3" stroke="#fff6e2" stroke-opacity="0.11" stroke-width="0.8"/>
<path d="M1039.2,618.3 C1044.0,620.7 1058.3,627.9 1067.8,632.7 C1077.3,637.5 1086.8,642.3 1096.3,647.1 C1105.8,651.9 1115.3,656.7 1124.7,661.5 C1134.2,666.3 1143.6,671.2 1153.0,676.0 C1162.4,680.8 1176.5,688.1 1181.2,690.5" stroke="#fff6e2" stroke-opacity="0.23" stroke-width="1.2"/>
<path d="M581.1,368.1 C588.0,372.2 608.7,384.6 622.5,392.8 C636.2,401.0 650.0,409.1 663.7,417.3 C677.4,425.4 691.1,433.7 704.8,441.8 C718.5,449.9 732.2,458.0 745.8,466.1 C759.5,474.1 780.1,486.1 786.9,490.1" stroke="#5e4a2c" stroke-opacity="0.22" stroke-width="0.6"/>
<path d="M219.3,240.7 C224.8,245.4 241.0,259.7 252.1,269.1 C263.3,278.4 274.5,287.5 286.0,296.7 C297.4,305.9 309.0,315.1 321.0,324.2 C332.9,333.2 345.1,342.3 357.7,351.2 C370.2,360.2 389.7,373.6 396.1,378.0" stroke="#5e4a2c" stroke-opacity="0.11" stroke-width="0.7"/>
<path d="M69.2,205.9 C79.8,214.9 111.3,242.0 132.9,259.7 C154.4,277.4 176.7,294.8 198.5,312.1 C220.2,329.5 242.3,346.4 263.4,363.8 C284.5,381.1 304.5,399.0 324.9,416.2 C345.3,433.5 375.8,458.8 386.0,467.3" stroke="#5e4a2c" stroke-opacity="0.22" stroke-width="1.3"/>
<path d="M345.9,319.6 C348.2,321.1 355.0,325.7 359.5,328.7 C364.1,331.7 368.7,334.7 373.3,337.7 C377.9,340.7 382.5,343.7 387.1,346.7 C391.7,349.7 396.3,352.8 401.0,355.8 C405.6,358.8 412.6,363.3 414.9,364.8" stroke="#fff6e2" stroke-opacity="0.21" stroke-width="1.2"/>
<path d="M577.8,418.5 C582.0,421.1 594.6,429.0 603.0,434.3 C611.3,439.5 619.7,444.8 628.1,450.1 C636.5,455.3 644.8,460.6 653.2,465.8 C661.7,471.1 670.1,476.2 678.6,481.3 C687.1,486.5 699.8,494.2 704.0,496.8" stroke="#5e4a2c" stroke-opacity="0.17" stroke-width="0.5"/>
<path d="M327.2,161.9 C336.6,167.5 365.0,184.2 384.0,195.4 C403.0,206.5 422.1,217.7 441.4,228.8 C460.7,239.9 480.3,250.8 499.8,261.9 C519.3,272.9 539.0,283.9 558.7,294.9 C578.3,305.9 607.9,322.3 617.7,327.8" stroke="#5e4a2c" stroke-opacity="0.19" stroke-width="1.5"/>
<path d="M613.5,490.1 C621.9,495.4 647.0,511.4 663.7,522.1 C680.4,532.7 697.0,543.3 713.7,553.8 C730.3,564.3 747.0,574.7 763.7,585.1 C780.4,595.4 797.1,605.8 813.9,616.1 C830.6,626.3 855.9,641.6 864.3,646.7" stroke="#fff6e2" stroke-opacity="0.23" stroke-width="0.6"/>
<path d="M457.3,410.4 C470.7,419.1 510.7,445.4 537.9,462.6 C565.1,479.8 593.1,496.7 620.4,513.7 C647.7,530.6 675.1,547.4 701.6,564.2 C728.1,581.0 753.8,597.8 779.4,614.6 C805.0,631.5 842.6,656.6 855.2,665.0" stroke="#5e4a2c" stroke-opacity="0.30" stroke-width="0.6"/>
<path d="M637.9,673.2 C644.0,677.6 661.9,690.9 674.0,699.6 C686.1,708.4 698.2,717.2 710.4,725.8 C722.6,734.5 735.0,743.0 747.4,751.5 C759.9,760.0 772.4,768.5 785.0,776.9 C797.6,785.3 816.7,797.9 823.0,802.1" stroke="#5e4a2c" stroke-opacity="0.14" stroke-width="1.5"/>
<path d="M747.9,396.0 C754.0,399.1 772.2,408.5 784.4,414.8 C796.6,421.0 808.8,427.3 821.0,433.5 C833.1,439.7 845.3,445.8 857.4,451.9 C869.5,458.1 881.5,464.2 893.4,470.4 C905.3,476.6 923.0,486.0 929.0,489.1" stroke="#5e4a2c" stroke-opacity="0.19" stroke-width="1.2"/>
<path d="M511.1,244.5 C515.5,247.0 528.6,254.5 537.4,259.6 C546.1,264.6 554.9,269.6 563.7,274.7 C572.5,279.7 581.3,284.7 590.1,289.7 C598.9,294.8 607.8,299.8 616.7,304.8 C625.6,309.8 639.1,317.1 643.6,319.6" stroke="#fff6e2" stroke-opacity="0.16" stroke-width="1.5"/>
<path d="M798.2,494.3 C809.0,500.4 841.1,519.1 862.6,531.4 C884.1,543.6 905.6,555.7 927.3,567.7 C949.0,579.8 970.7,591.7 992.6,603.5 C1014.4,615.3 1036.4,626.9 1058.6,638.5 C1080.7,650.2 1114.3,667.4 1125.4,673.2" stroke="#5e4a2c" stroke-opacity="0.20" stroke-width="1.6"/>
<path d="M592.0,247.0 C607.1,254.6 652.5,277.9 682.8,293.0 C713.0,308.2 743.3,323.2 773.4,338.0 C803.4,352.9 833.5,367.5 863.3,382.2 C893.1,396.8 922.7,411.5 952.2,426.0 C981.8,440.6 1025.9,462.2 1040.7,469.5" stroke="#5e4a2c" stroke-opacity="0.10" stroke-width="1.4"/>
<path d="M75.2,268.2 C86.3,278.5 119.6,309.7 141.8,330.2 C164.0,350.7 186.1,370.9 208.4,391.1 C230.6,411.4 252.5,431.8 275.4,451.6 C298.2,471.5 321.7,490.7 345.5,510.0 C369.3,529.2 405.9,557.6 418.0,567.1" stroke="#5e4a2c" stroke-opacity="0.09" stroke-width="0.9"/>
<path d="M56.3,244.7 C58.4,246.8 64.7,253.1 69.0,257.3 C73.2,261.4 77.5,265.6 81.7,269.8 C86.0,273.9 90.2,278.1 94.5,282.3 C98.8,286.5 103.0,290.7 107.3,294.8 C111.7,298.9 118.3,304.9 120.5,306.9" stroke="#5e4a2c" stroke-opacity="0.29" stroke-width="1.4"/>
<path d="M997.8,481.3 C1009.3,486.7 1044.2,502.8 1067.0,513.6 C1089.9,524.4 1112.3,535.4 1134.9,546.1 C1157.5,556.9 1179.9,567.4 1202.6,578.0 C1225.3,588.5 1248.0,599.1 1271.2,609.5 C1294.3,619.9 1329.7,635.4 1341.4,640.5" stroke="#5e4a2c" stroke-opacity="0.10" stroke-width="0.9"/>
<path d="M851.9,441.4 C865.5,448.5 905.9,470.0 933.5,483.8 C961.1,497.7 989.2,511.0 1017.4,524.4 C1045.7,537.7 1074.4,550.8 1103.0,563.8 C1131.5,576.8 1160.4,589.4 1188.7,602.3 C1217.1,615.2 1259.0,634.7 1273.0,641.1" stroke="#5e4a2c" stroke-opacity="0.11" stroke-width="1.2"/>
<path d="M350.9,367.4 C355.7,371.2 370.1,382.6 379.7,390.0 C389.4,397.5 399.2,404.7 409.0,412.0 C418.7,419.3 428.4,426.6 438.2,433.8 C448.0,441.1 457.9,448.3 467.7,455.5 C477.6,462.7 492.5,473.5 497.4,477.1" stroke="#5e4a2c" stroke-opacity="0.25" stroke-width="0.9"/>
<path d="M607.6,400.0 C613.3,403.6 630.4,414.3 642.0,421.4 C653.5,428.5 665.1,435.6 676.8,442.6 C688.5,449.6 700.3,456.6 712.2,463.5 C724.1,470.5 736.2,477.2 748.4,484.0 C760.5,490.8 779.0,500.9 785.1,504.3" stroke="#5e4a2c" stroke-opacity="0.19" stroke-width="1.3"/>
<path d="M376.4,519.1 C385.4,526.9 412.0,550.6 430.1,566.1 C448.1,581.6 466.2,596.9 484.7,612.2 C503.2,627.4 521.8,642.6 541.0,657.5 C560.2,672.4 579.7,687.1 599.7,701.6 C619.7,716.1 650.7,737.5 660.9,744.7" stroke="#fff6e2" stroke-opacity="0.13" stroke-width="1.4"/>
<path d="M1116.4,591.2 C1118.9,592.4 1126.2,595.8 1131.1,598.1 C1136.0,600.4 1140.8,602.7 1145.7,605.0 C1150.5,607.3 1155.3,609.7 1160.1,612.0 C1164.9,614.3 1169.7,616.6 1174.5,619.0 C1179.2,621.3 1186.3,624.8 1188.7,626.0" stroke="#5e4a2c" stroke-opacity="0.26" stroke-width="1.0"/>
<path d="M832.3,369.6 C843.3,374.7 876.2,390.2 898.1,400.4 C919.9,410.5 941.8,420.5 963.4,430.7 C984.9,440.8 1006.1,451.2 1027.3,461.2 C1048.6,471.3 1069.6,481.1 1090.7,490.9 C1111.7,500.8 1143.3,515.6 1153.9,520.5" stroke="#fff6e2" stroke-opacity="0.14" stroke-width="0.7"/>
<path d="M708.8,384.4 C724.7,392.8 772.1,418.4 804.0,435.2 C835.8,451.9 867.8,468.5 899.7,484.8 C931.7,501.1 963.8,517.1 995.7,533.1 C1027.7,549.0 1059.6,564.7 1091.5,580.4 C1123.5,596.0 1171.4,619.1 1187.4,626.8" stroke="#5e4a2c" stroke-opacity="0.16" stroke-width="1.1"/>
<path d="M435.2,187.5 C449.7,195.3 493.1,218.9 522.2,234.7 C551.2,250.5 580.2,266.6 609.5,282.3 C638.8,298.0 668.1,313.8 697.7,329.2 C727.4,344.5 757.4,359.5 787.3,374.5 C817.3,389.5 862.6,411.6 877.6,419.0" stroke="#5e4a2c" stroke-opacity="0.17" stroke-width="0.5"/>
<path d="M955.0,412.1 C970.0,419.3 1015.5,441.3 1045.1,455.7 C1074.8,470.1 1103.7,484.2 1132.9,498.4 C1162.2,512.5 1190.9,526.7 1220.6,540.5 C1250.2,554.3 1280.1,567.8 1311.0,581.1 C1341.9,594.4 1390.0,613.9 1405.8,620.5" stroke="#fff6e2" stroke-opacity="0.24" stroke-width="0.6"/>
<path d="M237.6,269.8 C249.6,278.5 285.4,304.4 309.3,321.8 C333.1,339.1 356.9,356.7 380.6,373.8 C404.4,391.0 428.2,408.0 451.8,424.8 C475.4,441.7 498.9,458.4 522.4,475.1 C546.0,491.8 581.2,516.6 593.0,524.9" stroke="#5e4a2c" stroke-opacity="0.18" stroke-width="1.2"/>
<path d="M349.6,453.8 C360.9,462.9 394.8,490.6 417.7,508.8 C440.5,527.0 463.3,545.1 486.7,562.9 C510.1,580.7 534.0,598.2 558.1,615.6 C582.3,632.9 607.1,650.0 631.8,667.0 C656.5,684.0 694.0,709.1 706.4,717.5" stroke="#5e4a2c" stroke-opacity="0.25" stroke-width="0.8"/>
<path d="M1081.5,599.6 C1086.7,602.0 1102.3,609.4 1112.7,614.3 C1123.2,619.1 1133.7,624.0 1144.2,628.9 C1154.7,633.7 1165.3,638.5 1175.9,643.4 C1186.4,648.2 1197.0,653.1 1207.5,657.9 C1217.9,662.8 1233.6,670.1 1238.8,672.5" stroke="#5e4a2c" stroke-opacity="0.15" stroke-width="1.2"/>
<path d="M381.0,207.2 C395.6,216.1 439.2,242.7 468.2,260.5 C497.2,278.3 525.8,296.4 554.9,314.1 C584.0,331.8 613.1,349.4 642.8,366.6 C672.6,383.7 702.9,400.5 733.5,417.1 C764.2,433.8 811.3,458.1 826.8,466.3" stroke="#5e4a2c" stroke-opacity="0.11" stroke-width="0.6"/>
<path d="M182.1,249.7 C194.7,259.1 232.3,287.6 257.6,306.4 C282.8,325.2 308.5,343.7 333.5,362.3 C358.6,380.9 383.3,399.6 407.9,418.0 C432.6,436.4 457.0,454.4 481.3,472.6 C505.6,490.8 541.6,517.9 553.7,527.0" stroke="#5e4a2c" stroke-opacity="0.08" stroke-width="0.8"/>
<path d="M767.1,697.2 C771.3,700.0 783.8,708.3 792.1,713.9 C800.4,719.5 808.7,725.1 816.9,730.7 C825.1,736.3 833.3,741.9 841.6,747.5 C849.8,753.1 858.0,758.6 866.3,764.2 C874.6,769.7 887.0,778.1 891.2,780.8" stroke="#5e4a2c" stroke-opacity="0.17" stroke-width="0.5"/>
<path d="M590.2,469.7 C601.3,477.0 634.6,499.0 657.2,513.4 C679.9,527.8 702.9,542.0 726.2,556.0 C749.4,570.0 773.1,583.8 796.8,597.4 C820.4,611.1 844.4,624.6 868.0,638.1 C891.6,651.5 926.8,671.6 938.6,678.3" stroke="#5e4a2c" stroke-opacity="0.22" stroke-width="1.0"/>
<path d="M414.5,281.4 C418.8,284.2 432.0,292.8 440.7,298.5 C449.4,304.2 458.0,309.9 466.6,315.6 C475.2,321.4 483.8,327.2 492.4,332.9 C500.9,338.7 509.4,344.4 518.0,350.1 C526.5,355.8 539.4,364.2 543.7,367.1" stroke="#5e4a2c" stroke-opacity="0.22" stroke-width="0.6"/>
<path d="M897.7,480.8 C908.7,486.4 941.3,503.3 963.6,514.3 C985.9,525.2 1008.7,536.0 1031.6,546.6 C1054.6,557.2 1078.0,567.6 1101.3,577.9 C1124.5,588.3 1148.1,598.3 1171.3,608.6 C1194.5,618.9 1229.0,634.4 1240.5,639.5" stroke="#5e4a2c" stroke-opacity="0.08" stroke-width="0.8"/>
<path d="M960.0,568.2 C967.7,572.2 990.7,584.4 1006.1,592.4 C1021.5,600.4 1037.0,608.3 1052.5,616.2 C1067.9,624.2 1083.5,632.0 1099.0,639.9 C1114.6,647.7 1130.1,655.6 1145.7,663.4 C1161.2,671.3 1184.7,683.0 1192.5,686.9" stroke="#5e4a2c" stroke-opacity="0.19" stroke-width="0.9"/>
<path d="M338.7,253.2 C350.0,261.0 383.8,284.6 406.6,300.4 C429.4,316.1 452.2,332.0 475.7,347.5 C499.2,363.0 523.0,378.2 547.4,393.2 C571.8,408.1 596.8,422.7 621.9,437.2 C647.1,451.7 685.6,473.2 698.3,480.3" stroke="#5e4a2c" stroke-opacity="0.27" stroke-width="1.5"/>
<path d="M206.6,184.3 C218.2,192.5 252.9,216.9 275.9,233.2 C298.9,249.4 321.7,265.6 344.6,281.7 C367.5,297.9 390.2,313.9 413.2,330.0 C436.1,346.0 458.8,362.3 482.2,378.0 C505.7,393.7 541.9,416.4 553.8,424.1" stroke="#5e4a2c" stroke-opacity="0.29" stroke-width="0.9"/>
<path d="M709.5,565.2 C713.1,567.4 724.1,574.1 731.4,578.6 C738.7,583.0 746.1,587.5 753.4,592.0 C760.7,596.4 768.1,600.9 775.4,605.3 C782.8,609.7 790.2,614.1 797.6,618.5 C804.9,622.9 816.0,629.5 819.7,631.7" stroke="#5e4a2c" stroke-opacity="0.14" stroke-width="1.6"/>
<path d="M633.8,691.2 C639.1,695.2 655.5,707.3 665.8,715.5 C676.2,723.7 686.1,731.9 695.9,740.2 C705.7,748.5 715.2,756.8 724.8,765.1 C734.4,773.4 743.8,781.7 753.7,789.9 C763.5,798.1 778.8,810.2 783.8,814.3" stroke="#5e4a2c" stroke-opacity="0.13" stroke-width="1.2"/>
<path d="M378.6,282.6 C390.3,290.7 425.6,314.7 449.1,330.7 C472.6,346.7 495.7,362.8 519.6,378.5 C543.5,394.1 567.8,409.3 592.3,424.5 C616.9,439.7 642.0,454.8 667.1,469.7 C692.3,484.5 730.7,506.2 743.4,513.6" stroke="#5e4a2c" stroke-opacity="0.28" stroke-width="0.9"/>
<path d="M505.3,538.3 C515.7,545.6 546.6,567.6 567.7,582.1 C588.7,596.5 610.3,610.7 631.6,624.8 C653.0,639.0 674.5,653.1 695.6,667.2 C716.7,681.3 737.5,695.4 758.1,709.4 C778.8,723.5 809.4,744.4 819.6,751.4" stroke="#5e4a2c" stroke-opacity="0.22" stroke-width="1.4"/>
<path d="M403.9,327.0 C412.3,333.1 437.2,351.4 454.2,363.3 C471.2,375.2 488.3,387.0 505.7,398.6 C523.1,410.3 540.8,421.7 558.6,433.1 C576.4,444.5 594.4,455.9 612.6,467.1 C630.8,478.3 658.7,494.8 667.9,500.4" stroke="#5e4a2c" stroke-opacity="0.27" stroke-width="0.6"/>
<path d="M388.4,419.8 C392.5,422.8 404.9,431.8 413.1,437.8 C421.4,443.8 429.7,449.7 438.1,455.6 C446.4,461.5 454.8,467.5 463.2,473.4 C471.5,479.3 479.9,485.2 488.3,491.1 C496.8,497.0 509.4,505.8 513.6,508.8" stroke="#5e4a2c" stroke-opacity="0.22" stroke-width="0.5"/>
<path d="M318.3,208.6 C332.2,217.1 373.6,242.8 401.2,259.8 C428.9,276.8 456.8,293.7 484.0,310.7 C511.3,327.7 537.8,345.0 564.7,361.8 C591.6,378.6 618.2,395.2 645.3,411.6 C672.4,428.0 713.9,452.3 727.6,460.5" stroke="#fff6e2" stroke-opacity="0.11" stroke-width="0.7"/>
<path d="M434.4,221.0 C447.9,228.7 488.2,251.6 515.0,267.0 C541.8,282.4 568.4,298.0 595.2,313.2 C621.9,328.5 648.7,343.6 675.6,358.5 C702.5,373.4 729.5,388.0 756.6,402.6 C783.7,417.2 824.4,439.0 838.0,446.2" stroke="#5e4a2c" stroke-opacity="0.13" stroke-width="1.2"/>
<path d="M689.4,447.2 C703.0,454.8 743.1,478.0 770.9,493.0 C798.6,507.9 827.6,522.5 855.8,537.0 C884.0,551.6 912.7,565.8 940.1,580.2 C967.6,594.7 994.2,609.2 1020.5,623.8 C1046.7,638.4 1084.8,660.4 1097.6,667.8" stroke="#5e4a2c" stroke-opacity="0.11" stroke-width="0.7"/>
<path d="M670.3,663.8 C675.9,668.3 692.6,681.8 703.7,690.8 C714.8,699.8 725.7,708.9 737.1,717.8 C748.4,726.7 759.9,735.4 771.7,744.1 C783.6,752.7 795.7,761.3 808.2,769.7 C820.8,778.1 840.6,790.4 847.0,794.6" stroke="#fff6e2" stroke-opacity="0.25" stroke-width="1.4"/>
<path d="M769.9,534.7 C777.5,539.3 800.0,553.1 815.6,562.1 C831.1,571.1 846.9,580.1 863.1,588.9 C879.3,597.7 895.8,606.3 912.6,614.9 C929.3,623.4 946.4,631.7 963.5,640.0 C980.6,648.3 1006.7,660.6 1015.4,664.7" stroke="#5e4a2c" stroke-opacity="0.17" stroke-width="1.5"/>
<path d="M594.7,408.7 C608.5,417.0 649.7,442.1 677.2,458.6 C704.8,475.0 732.4,491.3 760.0,507.5 C787.6,523.6 815.3,539.6 842.9,555.5 C870.6,571.3 898.2,587.1 925.9,602.7 C953.7,618.2 995.5,641.1 1009.4,648.7" stroke="#5e4a2c" stroke-opacity="0.20" stroke-width="1.3"/>
<path d="M734.4,363.7 C744.5,368.9 774.7,384.8 794.8,395.3 C814.8,405.9 834.8,416.5 854.7,427.0 C874.7,437.4 894.6,447.8 914.6,458.1 C934.5,468.5 954.3,479.0 974.3,489.2 C994.2,499.3 1024.3,514.2 1034.4,519.2" stroke="#5e4a2c" stroke-opacity="0.17" stroke-width="1.2"/>
<path d="M757.1,467.7 C759.7,469.2 767.3,473.6 772.5,476.6 C777.6,479.6 782.6,482.6 787.7,485.6 C792.8,488.5 797.9,491.5 803.0,494.5 C808.1,497.5 813.2,500.4 818.3,503.4 C823.3,506.4 831.0,510.8 833.5,512.3" stroke="#fff6e2" stroke-opacity="0.12" stroke-width="1.2"/>
<path d="M193.2,318.0 C199.5,323.2 218.5,338.9 231.1,349.4 C243.8,359.9 256.5,370.4 269.2,381.0 C281.9,391.5 294.4,402.2 307.3,412.5 C320.2,422.9 333.4,432.9 346.5,443.0 C359.6,453.1 379.4,468.0 386.0,473.1" stroke="#fff6e2" stroke-opacity="0.17" stroke-width="0.6"/>
<path d="M482.4,255.5 C490.0,260.3 512.7,274.6 528.1,284.1 C543.4,293.7 558.8,303.3 574.6,312.6 C590.4,322.0 606.3,331.3 622.7,340.4 C639.0,349.6 655.8,358.5 672.7,367.3 C689.6,376.2 715.7,389.1 724.3,393.5" stroke="#5e4a2c" stroke-opacity="0.14" stroke-width="1.0"/>
<path d="M841.8,677.3 C846.1,679.9 859.0,687.8 867.6,693.1 C876.1,698.3 884.7,703.6 893.2,708.9 C901.7,714.2 910.3,719.5 918.8,724.7 C927.3,730.0 935.8,735.3 944.3,740.5 C952.8,745.8 965.5,753.7 969.8,756.3" stroke="#5e4a2c" stroke-opacity="0.25" stroke-width="0.9"/>
<path d="M528.7,494.0 C538.3,500.5 567.1,520.1 586.3,533.1 C605.5,546.1 624.6,559.0 643.7,571.8 C662.9,584.6 682.0,597.3 701.1,610.0 C720.2,622.7 739.3,635.3 758.5,647.8 C777.7,660.4 806.7,679.0 816.3,685.2" stroke="#5e4a2c" stroke-opacity="0.20" stroke-width="1.4"/>
<path d="M235.8,238.9 C238.4,240.8 246.3,246.4 251.5,250.1 C256.8,253.8 262.1,257.5 267.4,261.2 C272.7,264.9 278.1,268.5 283.4,272.1 C288.8,275.8 294.3,279.3 299.7,282.9 C305.1,286.5 313.2,291.9 315.9,293.7" stroke="#5e4a2c" stroke-opacity="0.22" stroke-width="1.4"/>
<path d="M718.9,464.9 C729.9,470.7 762.8,488.2 785.2,499.6 C807.6,511.0 830.8,522.1 853.5,533.2 C876.2,544.3 899.2,555.2 921.3,566.2 C943.4,577.3 965.2,588.4 986.2,599.7 C1007.2,610.9 1037.1,628.0 1047.3,633.7" stroke="#fff6e2" stroke-opacity="0.11" stroke-width="1.3"/>
<path d="M384.6,252.2 C395.4,258.9 427.6,278.8 449.3,292.0 C471.0,305.3 492.9,318.6 514.9,331.7 C536.9,344.8 559.1,357.7 581.3,370.5 C603.5,383.3 626.0,395.7 648.1,408.3 C670.2,420.9 703.0,439.8 714.0,446.1" stroke="#fff6e2" stroke-opacity="0.26" stroke-width="1.5"/>
<path d="M987.5,503.9 C998.0,508.7 1029.5,523.4 1050.4,533.1 C1071.3,542.8 1092.3,552.5 1113.1,562.1 C1133.9,571.6 1154.7,581.1 1175.3,590.6 C1195.9,600.2 1216.3,609.7 1236.6,619.4 C1256.9,629.0 1287.2,643.5 1297.3,648.3" stroke="#5e4a2c" stroke-opacity="0.09" stroke-width="0.8"/>
<path d="M940.3,600.9 C946.8,604.4 966.2,614.9 979.1,621.9 C992.1,628.9 1005.1,635.8 1018.2,642.7 C1031.3,649.6 1044.4,656.5 1057.5,663.3 C1070.7,670.2 1083.8,677.0 1097.0,683.9 C1110.2,690.7 1130.1,700.9 1136.7,704.3" stroke="#fff6e2" stroke-opacity="0.18" stroke-width="1.1"/>
<path d="M460.8,576.2 C469.5,582.5 495.7,601.7 513.0,614.4 C530.4,627.1 547.7,639.8 565.0,652.4 C582.2,665.1 599.4,677.6 616.3,690.2 C633.3,702.8 650.0,715.6 666.8,728.1 C683.6,740.6 708.8,759.1 717.2,765.3" stroke="#5e4a2c" stroke-opacity="0.17" stroke-width="1.6"/>
<path d="M185.3,277.9 C187.3,279.5 193.4,284.6 197.5,287.9 C201.5,291.2 205.7,294.4 209.8,297.7 C213.9,301.0 218.0,304.2 222.1,307.5 C226.2,310.8 230.3,314.1 234.5,317.3 C238.6,320.6 244.7,325.5 246.8,327.2" stroke="#fff6e2" stroke-opacity="0.25" stroke-width="0.5"/>
<path d="M393.8,316.7 C402.9,322.8 430.2,341.2 448.4,353.3 C466.6,365.5 484.7,377.5 502.8,389.5 C520.9,401.4 538.9,413.2 556.9,425.0 C574.8,436.8 592.6,448.7 610.5,460.5 C628.4,472.2 655.4,489.7 664.3,495.5" stroke="#fff6e2" stroke-opacity="0.17" stroke-width="1.0"/>
<path d="M560.3,604.0 C565.2,607.9 579.7,619.7 589.6,627.5 C599.5,635.2 609.4,643.1 619.6,650.7 C629.8,658.4 640.3,665.9 650.9,673.3 C661.6,680.8 672.5,688.2 683.5,695.5 C694.6,702.9 711.7,713.7 717.4,717.3" stroke="#5e4a2c" stroke-opacity="0.29" stroke-width="1.1"/>
<path d="M296.3,166.5 C298.7,167.9 305.8,172.3 310.5,175.2 C315.3,178.2 320.0,181.1 324.8,184.0 C329.6,187.0 334.3,189.9 339.1,192.8 C343.9,195.7 348.7,198.6 353.5,201.6 C358.3,204.5 365.5,208.9 368.0,210.3" stroke="#5e4a2c" stroke-opacity="0.15" stroke-width="1.2"/>
<path d="M753.5,370.8 C757.0,372.3 767.5,377.1 774.5,380.2 C781.5,383.3 788.6,386.4 795.6,389.6 C802.6,392.7 809.7,395.8 816.7,398.9 C823.7,402.0 830.7,405.2 837.6,408.3 C844.6,411.4 854.9,416.2 858.3,417.8" stroke="#fff6e2" stroke-opacity="0.18" stroke-width="0.9"/>
<path d="M681.7,703.8 C685.3,706.6 696.2,714.9 703.4,720.4 C710.6,725.9 717.9,731.2 725.0,736.7 C732.2,742.1 739.3,747.6 746.5,753.1 C753.7,758.5 760.8,764.0 768.0,769.4 C775.3,774.8 786.2,782.9 789.8,785.6" stroke="#5e4a2c" stroke-opacity="0.25" stroke-width="1.4"/>
<path d="M456.4,314.1 C459.1,316.0 467.2,321.7 472.6,325.6 C477.9,329.4 483.2,333.3 488.5,337.2 C493.7,341.0 499.0,344.9 504.2,348.7 C509.5,352.6 514.7,356.4 519.9,360.2 C525.2,364.0 533.2,369.7 535.8,371.6" stroke="#5e4a2c" stroke-opacity="0.21" stroke-width="1.6"/>
<path d="M480.8,319.3 C488.6,324.1 511.9,338.5 527.5,347.9 C543.2,357.3 558.9,366.6 574.6,375.9 C590.3,385.1 606.1,394.2 621.7,403.3 C637.4,412.5 653.0,421.5 668.5,430.7 C684.1,439.8 707.1,453.6 714.8,458.1" stroke="#5e4a2c" stroke-opacity="0.16" stroke-width="1.5"/>
<path d="M691.5,520.1 C697.5,523.9 715.8,535.4 727.9,543.0 C740.1,550.5 752.4,558.0 764.6,565.5 C776.8,572.9 789.0,580.4 801.2,587.9 C813.4,595.3 825.6,602.7 837.9,610.1 C850.1,617.4 868.5,628.4 874.7,632.1" stroke="#5e4a2c" stroke-opacity="0.26" stroke-width="0.8"/>
<path d="M1013.1,513.0 C1023.0,517.7 1052.4,531.9 1072.3,541.2 C1092.3,550.4 1112.5,559.4 1132.8,568.4 C1153.0,577.4 1173.6,586.2 1193.9,595.1 C1214.2,604.0 1234.6,612.9 1254.7,621.9 C1274.8,630.9 1304.5,644.4 1314.5,648.9" stroke="#fff6e2" stroke-opacity="0.24" stroke-width="1.1"/>
<path d="M603.3,439.9 C611.9,445.5 637.8,462.5 655.0,473.7 C672.3,484.9 689.6,495.9 706.9,506.9 C724.3,518.0 741.5,529.1 759.0,540.0 C776.5,550.9 794.1,561.5 811.8,572.2 C829.5,582.8 856.5,598.7 865.4,604.0" stroke="#5e4a2c" stroke-opacity="0.25" stroke-width="1.0"/>
<path d="M773.4,490.8 C781.8,495.6 806.8,509.8 823.4,519.1 C840.0,528.5 856.6,537.6 873.1,546.9 C889.6,556.1 906.0,565.4 922.4,574.5 C938.8,583.7 955.2,592.9 971.6,602.0 C988.0,611.0 1012.8,624.5 1021.0,629.0" stroke="#5e4a2c" stroke-opacity="0.08" stroke-width="0.7"/>
<path d="M479.0,350.7 C482.0,352.5 491.1,358.1 497.3,361.8 C503.4,365.5 509.6,369.1 515.9,372.7 C522.1,376.3 528.3,379.9 534.6,383.5 C540.9,387.1 547.2,390.7 553.5,394.2 C559.8,397.8 569.2,403.1 572.4,404.9" stroke="#fff6e2" stroke-opacity="0.26" stroke-width="0.9"/>
<path d="M382.5,262.5 C387.0,265.4 400.5,274.2 409.5,280.1 C418.5,286.0 427.5,291.9 436.5,297.7 C445.6,303.6 454.6,309.5 463.7,315.3 C472.8,321.2 481.9,327.1 491.0,333.0 C500.1,338.8 513.9,347.5 518.4,350.4" stroke="#5e4a2c" stroke-opacity="0.20" stroke-width="0.7"/>
<path d="M88.1,223.2 C100.4,234.1 137.0,267.0 162.0,288.3 C187.0,309.6 212.8,330.0 238.0,350.9 C263.2,371.8 287.8,393.2 313.2,413.8 C338.5,434.4 364.4,454.3 390.1,474.4 C415.8,494.5 454.7,524.4 467.7,534.4" stroke="#5e4a2c" stroke-opacity="0.18" stroke-width="0.9"/>
<path d="M181.1,366.8 C189.2,373.9 213.3,395.6 229.7,409.7 C246.2,423.9 263.0,437.8 279.8,451.6 C296.7,465.4 313.9,478.8 330.8,492.4 C347.8,506.1 364.7,519.8 381.5,533.3 C398.4,546.8 423.6,566.8 432.1,573.6" stroke="#fff6e2" stroke-opacity="0.26" stroke-width="0.6"/>
<path d="M636.1,596.6 C643.3,601.4 664.6,615.6 679.0,625.0 C693.5,634.3 708.1,643.6 722.8,652.8 C737.6,661.9 752.4,671.1 767.3,680.1 C782.2,689.2 797.3,698.1 812.4,707.0 C827.5,715.9 850.4,729.2 858.0,733.6" stroke="#fff6e2" stroke-opacity="0.27" stroke-width="1.5"/>
<path d="M192.5,296.0 C195.2,298.3 203.4,305.1 208.9,309.6 C214.5,314.1 220.1,318.6 225.7,323.1 C231.4,327.5 237.2,332.0 243.0,336.4 C248.8,340.9 254.8,345.3 260.7,349.7 C266.7,354.1 275.8,360.7 278.8,362.9" stroke="#5e4a2c" stroke-opacity="0.24" stroke-width="0.6"/>
<path d="M1097.8,522.2 C1106.4,526.0 1132.3,537.7 1149.5,545.3 C1166.7,553.0 1183.9,560.5 1201.0,568.0 C1218.1,575.6 1235.1,583.2 1252.0,590.9 C1269.0,598.5 1285.8,606.2 1302.7,613.8 C1319.5,621.5 1344.8,633.0 1353.2,636.8" stroke="#5e4a2c" stroke-opacity="0.20" stroke-width="1.5"/>
<path d="M581.9,351.8 C589.9,356.6 613.8,370.9 629.8,380.3 C645.8,389.8 661.9,399.1 677.9,408.5 C693.9,417.9 709.8,427.3 725.9,436.6 C742.0,446.0 758.0,455.2 774.2,464.4 C790.4,473.6 814.7,487.2 822.8,491.8" stroke="#fff6e2" stroke-opacity="0.14" stroke-width="0.7"/>
<path d="M790.7,636.9 C797.2,640.8 816.5,652.5 829.4,660.2 C842.2,667.9 855.1,675.7 867.9,683.4 C880.7,691.1 893.5,698.7 906.3,706.4 C919.1,714.0 931.8,721.7 944.5,729.4 C957.2,737.0 976.1,748.6 982.4,752.4" stroke="#5e4a2c" stroke-opacity="0.19" stroke-width="1.4"/>
<path d="M268.6,227.9 C274.4,232.0 291.7,244.5 303.4,252.7 C315.2,260.9 327.1,268.9 339.1,277.0 C351.0,285.0 363.1,293.1 375.2,301.1 C387.3,309.1 399.5,317.1 411.6,325.2 C423.8,333.2 442.0,345.3 448.1,349.3" stroke="#5e4a2c" stroke-opacity="0.15" stroke-width="0.5"/>
<path d="M251.2,381.3 C255.6,385.2 268.9,397.0 277.7,404.8 C286.5,412.5 295.2,420.2 304.0,427.9 C312.7,435.5 321.4,443.2 330.1,450.7 C338.8,458.3 347.5,465.9 356.3,473.4 C365.1,481.0 378.4,492.3 382.8,496.1" stroke="#5e4a2c" stroke-opacity="0.18" stroke-width="0.6"/>
<path d="M755.9,358.4 C771.0,366.1 815.7,389.4 846.4,404.6 C877.0,419.7 908.4,434.5 939.7,449.2 C971.0,463.9 1002.8,478.3 1034.0,492.7 C1065.2,507.1 1096.1,521.4 1126.7,535.5 C1157.3,549.7 1202.4,570.7 1217.5,577.7" stroke="#fff6e2" stroke-opacity="0.14" stroke-width="1.4"/>
<path d="M479.1,211.8 C487.4,216.4 512.3,230.3 528.9,239.6 C545.6,248.9 562.2,258.2 579.0,267.5 C595.8,276.8 612.6,286.2 629.6,295.4 C646.6,304.6 663.7,313.7 681.0,322.7 C698.3,331.7 724.6,344.9 733.3,349.4" stroke="#fff6e2" stroke-opacity="0.21" stroke-width="0.6"/>
<path d="M730.7,370.7 C741.8,376.5 775.0,393.7 796.8,405.2 C818.7,416.7 840.1,428.3 861.7,439.7 C883.3,451.2 904.5,462.7 926.2,474.0 C947.8,485.2 969.5,496.3 991.6,507.3 C1013.7,518.2 1047.6,534.2 1058.8,539.5" stroke="#fff6e2" stroke-opacity="0.13" stroke-width="0.7"/>
<path d="M285.7,256.3 C292.6,261.2 313.6,276.1 327.6,285.9 C341.6,295.8 355.7,305.7 369.7,315.5 C383.7,325.4 397.7,335.3 411.7,345.2 C425.7,355.1 439.6,365.1 453.7,374.8 C467.8,384.5 489.3,398.8 496.5,403.5" stroke="#5e4a2c" stroke-opacity="0.26" stroke-width="0.8"/>
<path d="M429.8,337.1 C443.6,345.7 484.9,371.8 512.8,388.8 C540.7,405.7 569.3,422.1 597.3,438.7 C625.2,455.2 653.2,471.8 680.7,488.2 C708.1,504.7 735.3,521.1 762.1,537.5 C788.8,553.8 828.0,578.1 841.2,586.3" stroke="#5e4a2c" stroke-opacity="0.28" stroke-width="0.6"/>
<path d="M403.8,321.6 C408.9,325.2 424.2,335.9 434.5,343.1 C444.7,350.2 454.8,357.4 465.1,364.5 C475.4,371.5 485.7,378.5 496.1,385.4 C506.5,392.4 516.9,399.3 527.4,406.1 C537.8,413.0 553.6,423.2 558.8,426.6" stroke="#5e4a2c" stroke-opacity="0.14" stroke-width="0.7"/>
<path d="M452.5,397.4 C456.6,400.1 468.8,408.2 476.9,413.6 C485.1,419.0 493.3,424.3 501.5,429.7 C509.7,435.0 517.9,440.4 526.1,445.7 C534.3,451.0 542.5,456.3 550.7,461.7 C558.9,467.0 571.2,475.0 575.3,477.7" stroke="#5e4a2c" stroke-opacity="0.22" stroke-width="1.4"/>
<path d="M538.9,395.0 C550.8,402.5 586.7,425.2 610.6,440.3 C634.5,455.4 658.2,470.4 682.1,485.3 C706.0,500.2 729.8,515.1 753.8,529.7 C777.9,544.3 802.0,558.7 826.3,573.0 C850.5,587.3 887.3,608.4 899.5,615.5" stroke="#5e4a2c" stroke-opacity="0.18" stroke-width="1.5"/>
<path d="M338.2,238.5 C342.5,241.3 355.7,249.9 364.4,255.6 C373.2,261.3 382.0,266.9 390.7,272.6 C399.5,278.3 408.2,284.0 416.8,289.7 C425.5,295.4 434.2,301.1 442.8,306.8 C451.4,312.5 464.3,321.0 468.7,323.9" stroke="#5e4a2c" stroke-opacity="0.10" stroke-width="1.3"/>
<path d="M404.0,313.4 C408.5,316.5 422.1,325.9 431.0,332.1 C440.0,338.4 448.9,344.7 457.8,351.0 C466.8,357.3 475.7,363.5 484.8,369.7 C493.8,375.9 502.9,381.9 512.1,388.0 C521.3,394.0 535.1,403.0 539.7,406.0" stroke="#5e4a2c" stroke-opacity="0.12" stroke-width="1.2"/>
<path d="M689.7,542.9 C692.4,544.7 700.7,550.0 706.1,553.5 C711.6,557.0 717.2,560.5 722.7,564.0 C728.2,567.4 733.7,570.9 739.2,574.4 C744.7,577.8 750.2,581.3 755.7,584.8 C761.2,588.3 769.5,593.5 772.2,595.2" stroke="#5e4a2c" stroke-opacity="0.22" stroke-width="1.4"/>
<path d="M720.8,562.3 C724.6,564.6 736.1,571.5 743.8,576.1 C751.4,580.6 759.1,585.3 766.8,589.8 C774.4,594.4 782.1,599.0 789.8,603.6 C797.5,608.1 805.2,612.7 812.9,617.2 C820.6,621.7 832.2,628.5 836.0,630.8" stroke="#5e4a2c" stroke-opacity="0.26" stroke-width="1.2"/>
<path d="M571.1,488.8 C573.2,490.2 579.7,494.4 584.1,497.1 C588.4,499.9 592.8,502.6 597.2,505.4 C601.5,508.1 605.9,510.9 610.3,513.6 C614.7,516.4 619.0,519.1 623.4,521.8 C627.8,524.6 634.4,528.6 636.6,530.0" stroke="#fff6e2" stroke-opacity="0.11" stroke-width="1.1"/>
<path d="M1105.0,552.2 C1111.3,555.7 1130.3,565.9 1142.8,572.8 C1155.2,579.7 1167.4,586.7 1179.9,593.6 C1192.5,600.5 1205.0,607.4 1218.0,614.1 C1231.0,620.9 1244.3,627.6 1258.1,634.1 C1271.9,640.6 1293.8,650.0 1300.9,653.1" stroke="#fff6e2" stroke-opacity="0.11" stroke-width="1.5"/>
<path d="M581.7,431.1 C590.5,436.6 616.9,453.2 634.6,464.1 C652.2,475.0 670.0,485.8 687.7,496.6 C705.5,507.3 723.2,518.1 741.0,528.7 C758.8,539.4 776.7,549.8 794.5,560.3 C812.4,570.8 839.1,586.4 848.1,591.6" stroke="#5e4a2c" stroke-opacity="0.10" stroke-width="1.1"/>
<path d="M515.1,476.3 C528.3,485.5 568.1,513.1 594.5,531.3 C620.9,549.5 647.2,567.6 673.6,585.5 C700.1,603.4 726.5,621.2 753.4,638.7 C780.3,656.2 807.4,673.5 835.0,690.5 C862.6,707.6 905.0,732.5 919.0,740.9" stroke="#5e4a2c" stroke-opacity="0.26" stroke-width="0.5"/>
<path d="M394.9,430.6 C401.0,434.9 419.4,448.0 431.6,456.7 C443.8,465.3 456.1,474.0 468.3,482.7 C480.4,491.4 492.6,500.2 504.7,508.8 C516.9,517.4 529.2,525.8 541.4,534.3 C553.5,542.8 571.6,555.6 577.7,559.8" stroke="#5e4a2c" stroke-opacity="0.11" stroke-width="0.6"/>
<path d="M188.7,257.0 C195.2,262.1 214.4,277.6 227.7,287.6 C241.0,297.7 254.8,307.5 268.5,317.3 C282.3,327.2 296.3,337.0 310.3,346.8 C324.2,356.6 338.2,366.6 352.3,376.3 C366.4,386.0 387.6,400.5 394.6,405.3" stroke="#5e4a2c" stroke-opacity="0.13" stroke-width="0.7"/>
<path d="M849.0,650.6 C851.2,652.1 857.9,656.4 862.5,659.3 C867.0,662.2 871.5,665.1 876.1,667.9 C880.7,670.7 885.4,673.5 890.1,676.3 C894.8,679.1 899.5,681.9 904.2,684.6 C909.0,687.4 916.3,691.5 918.7,692.9" stroke="#5e4a2c" stroke-opacity="0.21" stroke-width="1.2"/>
<path d="M249.3,409.3 C255.2,414.4 272.9,430.0 284.8,440.2 C296.6,450.5 308.5,460.6 320.3,470.7 C332.1,480.9 343.9,491.0 355.6,501.1 C367.4,511.3 379.0,521.5 390.9,531.6 C402.7,541.6 420.7,556.5 426.6,561.5" stroke="#fff6e2" stroke-opacity="0.20" stroke-width="1.4"/>
<path d="M567.9,466.7 C573.9,470.7 592.0,482.6 604.1,490.5 C616.2,498.3 628.4,506.1 640.4,513.9 C652.5,521.7 664.5,529.5 676.6,537.3 C688.6,545.0 700.6,552.8 712.6,560.5 C724.6,568.2 742.7,579.6 748.7,583.4" stroke="#5e4a2c" stroke-opacity="0.17" stroke-width="0.7"/>
<path d="M267.8,207.5 C275.0,212.6 296.8,227.8 311.3,237.8 C325.9,247.8 340.5,257.8 355.3,267.8 C370.0,277.7 384.9,287.6 399.8,297.4 C414.7,307.3 429.7,317.2 444.8,327.0 C459.8,336.9 482.4,351.6 490.0,356.5" stroke="#5e4a2c" stroke-opacity="0.17" stroke-width="1.1"/>
<path d="M219.0,201.8 C232.5,211.6 273.1,241.3 300.3,260.7 C327.6,280.2 355.2,299.2 382.7,318.4 C410.2,337.6 437.3,357.2 465.3,376.0 C493.3,394.9 521.9,413.1 550.5,431.4 C579.1,449.7 622.3,476.8 636.7,485.9" stroke="#5e4a2c" stroke-opacity="0.22" stroke-width="1.6"/>
<path d="M481.3,475.9 C494.0,485.0 531.7,512.3 557.2,530.2 C582.8,548.1 608.5,565.8 634.5,583.3 C660.4,600.7 686.6,618.0 712.9,635.1 C739.2,652.2 765.7,669.2 792.4,685.9 C819.2,702.7 859.7,727.3 873.2,735.5" stroke="#5e4a2c" stroke-opacity="0.08" stroke-width="1.2"/>
<path d="M270.4,393.4 C274.3,396.4 285.9,405.5 293.7,411.4 C301.4,417.3 309.2,423.0 316.8,428.8 C324.4,434.7 331.8,440.6 339.0,446.4 C346.3,452.3 353.5,458.2 360.5,464.1 C367.5,470.1 377.6,479.0 381.0,482.0" stroke="#fff6e2" stroke-opacity="0.12" stroke-width="0.6"/>
<path d="M543.8,439.5 C556.7,447.9 594.5,473.6 621.4,490.0 C648.2,506.4 676.6,522.3 704.8,538.0 C733.1,553.7 762.6,568.9 791.0,584.3 C819.3,599.7 847.8,614.9 874.8,630.4 C901.9,645.8 940.2,669.4 953.3,677.2" stroke="#5e4a2c" stroke-opacity="0.13" stroke-width="1.5"/>
<path d="M849.2,426.4 C859.4,431.7 889.7,447.4 909.9,457.9 C930.2,468.3 950.4,478.9 970.8,489.1 C991.3,499.4 1011.9,509.2 1032.5,519.2 C1053.2,529.2 1073.8,539.3 1094.7,549.0 C1115.6,558.8 1147.4,573.0 1157.9,577.8" stroke="#5e4a2c" stroke-opacity="0.16" stroke-width="1.2"/>
<path d="M806.4,575.8 C809.0,577.3 816.7,581.8 821.9,584.8 C827.0,587.8 832.2,590.8 837.4,593.7 C842.5,596.7 847.7,599.7 852.9,602.6 C858.0,605.6 863.2,608.6 868.4,611.5 C873.5,614.5 881.3,618.9 883.9,620.4" stroke="#5e4a2c" stroke-opacity="0.16" stroke-width="0.9"/>
<path d="M755.8,619.2 C760.9,622.3 776.1,631.7 786.3,637.9 C796.5,644.1 806.8,650.2 817.1,656.3 C827.4,662.5 837.6,668.6 848.0,674.7 C858.3,680.8 868.8,686.7 879.3,692.7 C889.7,698.7 905.4,707.7 910.6,710.7" stroke="#5e4a2c" stroke-opacity="0.27" stroke-width="1.1"/>
<path d="M351.5,515.0 C359.9,521.8 385.0,542.2 401.7,555.7 C418.4,569.1 435.2,582.5 451.9,595.8 C468.6,609.1 485.3,622.3 502.0,635.5 C518.7,648.7 535.3,661.9 552.2,675.0 C569.0,688.0 594.6,707.3 603.1,713.8" stroke="#5e4a2c" stroke-opacity="0.26" stroke-width="0.9"/>
<path d="M963.4,644.4 C968.1,646.7 982.2,653.7 991.6,658.4 C1001.0,663.1 1010.3,667.8 1019.7,672.5 C1029.1,677.2 1038.4,681.9 1047.7,686.5 C1057.0,691.2 1066.3,695.9 1075.5,700.6 C1084.7,705.4 1098.4,712.5 1102.9,714.8" stroke="#5e4a2c" stroke-opacity="0.16" stroke-width="1.5"/>
<path d="M1028.9,514.7 C1038.7,519.2 1067.7,532.9 1087.6,541.7 C1107.5,550.5 1127.8,559.0 1148.1,567.5 C1168.4,576.1 1189.0,584.4 1209.3,592.9 C1229.6,601.4 1249.9,609.9 1269.9,618.5 C1289.8,627.1 1318.9,640.1 1328.7,644.5" stroke="#5e4a2c" stroke-opacity="0.22" stroke-width="1.3"/>
<path d="M240.3,234.7 C247.0,239.7 267.1,254.9 280.7,264.8 C294.4,274.7 308.3,284.4 322.1,294.1 C335.9,303.9 349.8,313.7 363.6,323.4 C377.5,333.2 391.3,343.0 405.2,352.8 C419.1,362.5 440.1,377.1 447.0,381.9" stroke="#5e4a2c" stroke-opacity="0.29" stroke-width="1.1"/>
<path d="M1041.5,544.6 C1049.5,548.5 1073.6,560.2 1089.5,567.9 C1105.3,575.6 1121.1,583.3 1136.8,591.0 C1152.5,598.7 1168.1,606.4 1183.6,614.2 C1199.1,621.9 1214.5,629.7 1230.0,637.5 C1245.4,645.3 1268.5,656.9 1276.2,660.8" stroke="#5e4a2c" stroke-opacity="0.14" stroke-width="0.9"/>
<path d="M663.8,465.1 C673.6,471.5 703.0,490.8 722.8,503.6 C742.5,516.3 762.0,529.2 782.3,541.6 C802.6,554.0 823.3,566.2 844.6,578.1 C866.0,590.1 888.1,601.8 910.3,613.3 C932.5,624.9 966.7,641.7 978.0,647.3" stroke="#5e4a2c" stroke-opacity="0.15" stroke-width="0.5"/>
<path d="M449.9,372.1 C454.7,375.4 468.9,385.4 478.4,392.0 C487.9,398.6 497.3,405.2 506.9,411.7 C516.4,418.3 526.0,424.8 535.6,431.3 C545.2,437.8 554.8,444.3 564.6,450.7 C574.3,457.2 589.1,466.8 594.0,470.1" stroke="#5e4a2c" stroke-opacity="0.27" stroke-width="1.4"/>
<path d="M364.1,425.9 C376.5,435.0 413.3,462.6 438.1,480.8 C462.9,499.0 487.9,517.1 513.0,534.9 C538.1,552.8 563.4,570.4 588.6,588.0 C613.7,605.5 638.9,622.9 664.0,640.2 C689.1,657.5 726.7,683.2 739.3,691.8" stroke="#5e4a2c" stroke-opacity="0.28" stroke-width="0.5"/>
<path d="M563.8,507.7 C571.1,512.6 593.0,527.2 607.5,536.9 C621.9,546.7 636.2,556.5 650.5,566.2 C664.8,575.9 679.0,585.5 693.2,595.1 C707.3,604.8 721.3,614.5 735.4,624.1 C749.4,633.7 770.5,648.0 777.5,652.8" stroke="#5e4a2c" stroke-opacity="0.16" stroke-width="1.4"/>
<path d="M967.8,438.0 C977.6,442.8 1007.0,457.3 1026.7,466.6 C1046.4,475.9 1066.3,484.9 1086.2,494.0 C1106.0,503.1 1125.8,512.3 1145.7,521.3 C1165.7,530.3 1185.7,539.1 1205.9,547.8 C1226.0,556.6 1256.3,569.6 1266.4,574.0" stroke="#5e4a2c" stroke-opacity="0.22" stroke-width="0.6"/>
<path d="M358.8,423.6 C365.4,428.4 385.5,442.9 398.7,452.5 C411.9,462.2 425.1,471.8 438.2,481.5 C451.2,491.1 464.0,500.9 476.9,510.5 C489.8,520.2 502.6,529.7 515.3,539.3 C528.0,548.9 546.9,563.2 553.2,568.0" stroke="#5e4a2c" stroke-opacity="0.20" stroke-width="1.3"/>
<path d="M824.5,678.4 C829.1,681.1 842.6,689.3 851.7,694.7 C860.8,700.1 869.9,705.5 878.9,710.8 C888.0,716.2 897.1,721.6 906.1,727.0 C915.2,732.4 924.2,737.8 933.2,743.2 C942.2,748.6 955.6,756.7 960.1,759.4" stroke="#5e4a2c" stroke-opacity="0.14" stroke-width="1.1"/>
<path d="M947.9,636.9 C953.0,639.6 968.3,647.5 978.5,652.7 C988.7,658.0 998.8,663.3 1008.9,668.5 C1019.1,673.8 1029.2,679.1 1039.2,684.3 C1049.3,689.6 1059.3,694.9 1069.3,700.1 C1079.2,705.4 1094.1,713.4 1099.1,716.1" stroke="#5e4a2c" stroke-opacity="0.28" stroke-width="1.1"/>
<path d="M310.5,223.5 C319.7,229.6 347.4,247.8 365.9,259.9 C384.4,271.9 403.1,283.8 421.5,295.9 C440.0,307.9 458.3,320.0 476.6,332.0 C495.0,344.0 513.2,356.1 531.6,367.9 C550.1,379.7 578.0,397.0 587.3,402.8" stroke="#5e4a2c" stroke-opacity="0.08" stroke-width="1.2"/>
<path d="M927.1,606.9 C933.4,610.4 952.3,620.9 965.0,627.8 C977.6,634.7 990.4,641.6 1003.1,648.5 C1015.9,655.4 1028.7,662.2 1041.6,669.0 C1054.5,675.9 1067.4,682.7 1080.3,689.4 C1093.2,696.2 1112.7,706.4 1119.2,709.8" stroke="#5e4a2c" stroke-opacity="0.12" stroke-width="0.6"/>
<path d="M547.6,530.2 C556.5,535.7 583.2,552.4 601.2,563.3 C619.2,574.2 637.5,584.9 655.5,595.7 C673.5,606.4 691.6,617.2 709.1,628.0 C726.7,638.8 744.1,649.5 761.0,660.4 C777.8,671.2 802.1,687.8 810.3,693.3" stroke="#5e4a2c" stroke-opacity="0.21" stroke-width="1.6"/>
<path d="M225.5,189.3 C228.5,191.4 237.4,197.6 243.4,201.7 C249.4,205.9 255.4,210.0 261.4,214.1 C267.4,218.3 273.4,222.4 279.5,226.5 C285.5,230.7 291.5,234.8 297.5,238.9 C303.6,243.0 312.7,249.2 315.7,251.3" stroke="#fff6e2" stroke-opacity="0.21" stroke-width="1.5"/>
<path d="M486.8,632.0 C492.3,636.2 508.7,648.7 519.8,656.9 C530.9,665.2 542.1,673.3 553.4,681.5 C564.6,689.6 576.0,697.7 587.2,705.7 C598.5,713.8 609.7,722.0 620.9,730.1 C632.1,738.1 648.8,750.1 654.4,754.1" stroke="#5e4a2c" stroke-opacity="0.09" stroke-width="1.3"/>
<path d="M440.6,172.6 C445.7,175.2 460.8,183.2 470.9,188.4 C481.0,193.7 491.2,199.0 501.3,204.3 C511.5,209.5 521.7,214.8 531.9,220.1 C542.1,225.3 552.3,230.6 562.5,235.9 C572.8,241.2 588.1,249.2 593.3,251.9" stroke="#5e4a2c" stroke-opacity="0.28" stroke-width="1.2"/>
<path d="M624.1,492.0 C629.6,495.3 645.8,504.9 657.0,511.3 C668.1,517.6 679.5,523.9 691.0,530.1 C702.4,536.3 714.1,542.5 725.7,548.7 C737.3,554.8 749.0,560.7 760.6,566.8 C772.1,572.9 789.2,582.0 794.9,585.1" stroke="#fff6e2" stroke-opacity="0.16" stroke-width="0.5"/>
<path d="M543.1,501.3 C556.4,510.4 596.4,537.6 623.1,555.6 C649.8,573.5 676.5,591.3 703.3,608.9 C730.1,626.5 756.9,644.0 783.9,661.3 C810.9,678.6 838.0,695.7 865.2,712.7 C892.5,729.7 933.8,754.9 947.5,763.3" stroke="#5e4a2c" stroke-opacity="0.17" stroke-width="1.0"/>
<path d="M742.4,632.2 C749.4,636.6 770.5,649.7 784.6,658.4 C798.6,667.2 812.7,675.9 826.8,684.5 C841.0,693.1 855.2,701.6 869.4,710.1 C883.6,718.6 897.9,727.1 912.1,735.6 C926.3,744.1 947.6,756.8 954.7,761.0" stroke="#5e4a2c" stroke-opacity="0.12" stroke-width="1.4"/>
<path d="M694.7,327.1 C701.9,331.0 723.6,342.7 738.0,350.5 C752.5,358.3 766.8,366.0 781.2,373.7 C795.6,381.4 809.9,389.1 824.3,396.8 C838.6,404.5 853.0,412.2 867.4,419.8 C881.9,427.4 903.9,438.6 911.2,442.3" stroke="#5e4a2c" stroke-opacity="0.22" stroke-width="0.9"/>
<path d="M844.0,391.5 C851.9,395.4 875.6,407.1 891.3,414.9 C907.1,422.6 922.9,430.2 938.6,437.9 C954.4,445.6 970.0,453.3 985.6,461.0 C1001.3,468.6 1017.0,476.2 1032.6,483.6 C1048.3,491.1 1071.9,502.1 1079.7,505.8" stroke="#5e4a2c" stroke-opacity="0.09" stroke-width="1.0"/>
<path d="M531.3,575.1 C534.2,577.3 543.0,583.9 548.9,588.2 C554.8,592.6 560.7,596.9 566.6,601.3 C572.5,605.6 578.4,609.9 584.3,614.3 C590.2,618.6 596.1,622.9 602.0,627.3 C607.8,631.6 616.7,638.1 619.6,640.3" stroke="#5e4a2c" stroke-opacity="0.18" stroke-width="0.8"/>
<path d="M295.1,298.6 C301.7,303.6 321.3,318.4 334.5,328.3 C347.8,338.1 361.1,348.0 374.6,357.8 C388.0,367.6 401.5,377.5 415.3,387.1 C429.2,396.7 443.4,406.1 457.6,415.4 C471.9,424.7 493.6,438.5 500.8,443.1" stroke="#5e4a2c" stroke-opacity="0.29" stroke-width="1.2"/>
<path d="M281.0,245.0 C291.1,252.4 321.6,274.7 341.9,289.6 C362.1,304.4 382.1,319.3 402.5,334.0 C422.8,348.8 443.0,363.9 464.0,378.3 C485.0,392.7 506.7,406.7 528.7,420.7 C550.7,434.6 584.6,455.1 595.8,462.0" stroke="#5e4a2c" stroke-opacity="0.16" stroke-width="0.8"/>
<path d="M688.1,645.8 C691.4,648.1 701.4,655.2 708.1,659.9 C714.8,664.6 721.4,669.3 728.0,674.0 C734.6,678.7 741.2,683.4 747.8,688.1 C754.4,692.8 761.0,697.5 767.6,702.2 C774.2,706.8 784.1,713.7 787.4,716.1" stroke="#fff6e2" stroke-opacity="0.23" stroke-width="1.1"/>
<path d="M409.3,228.9 C411.7,230.3 418.8,234.7 423.6,237.6 C428.4,240.5 433.2,243.4 438.0,246.3 C442.7,249.2 447.5,252.1 452.2,255.0 C457.0,257.9 461.7,260.9 466.5,263.8 C471.2,266.7 478.3,271.1 480.7,272.5" stroke="#fff6e2" stroke-opacity="0.14" stroke-width="1.3"/>
<path d="M618.4,694.5 C624.0,698.6 640.9,710.7 652.2,718.6 C663.5,726.6 674.9,734.5 686.3,742.4 C697.7,750.3 709.2,758.1 720.7,765.9 C732.1,773.7 743.6,781.5 755.1,789.2 C766.5,797.0 783.7,808.7 789.4,812.5" stroke="#5e4a2c" stroke-opacity="0.15" stroke-width="1.3"/>
<path d="M514.3,294.7 C521.8,299.2 544.3,312.8 559.5,321.7 C574.7,330.6 590.1,339.3 605.5,348.0 C621.0,356.7 636.7,365.3 652.3,373.8 C667.9,382.3 683.7,390.7 699.3,399.1 C714.9,407.6 738.2,420.3 746.0,424.5" stroke="#fff6e2" stroke-opacity="0.13" stroke-width="1.5"/>
<path d="M997.8,573.1 C1000.3,574.5 1007.9,578.7 1012.9,581.4 C1017.9,584.2 1023.0,586.9 1028.0,589.7 C1033.1,592.4 1038.2,595.2 1043.2,597.9 C1048.3,600.6 1053.4,603.4 1058.5,606.1 C1063.6,608.8 1071.4,612.9 1074.0,614.2" stroke="#5e4a2c" stroke-opacity="0.27" stroke-width="1.3"/>
<path d="M146.9,260.4 C158.5,270.2 193.0,299.8 216.5,319.2 C240.0,338.6 263.8,357.8 287.8,376.9 C311.8,396.0 336.0,415.1 360.5,433.7 C384.9,452.4 409.9,470.6 434.4,488.9 C459.0,507.2 495.7,534.5 508.0,543.6" stroke="#5e4a2c" stroke-opacity="0.21" stroke-width="1.3"/>
<path d="M554.4,591.2 C562.5,597.1 586.8,615.0 602.9,626.9 C619.1,638.8 635.2,650.7 651.4,662.5 C667.6,674.2 683.9,686.0 700.3,697.6 C716.8,709.2 733.3,720.7 750.1,732.1 C766.9,743.5 792.6,760.2 801.1,765.9" stroke="#5e4a2c" stroke-opacity="0.13" stroke-width="1.2"/>
<path d="M947.8,439.3 C958.4,444.4 990.2,459.9 1011.5,469.9 C1032.8,479.9 1054.4,489.4 1075.9,499.2 C1097.4,508.9 1118.9,518.7 1140.5,528.3 C1162.1,537.9 1183.8,547.2 1205.5,556.6 C1227.2,566.0 1259.8,579.9 1270.7,584.6" stroke="#fff6e2" stroke-opacity="0.24" stroke-width="1.5"/>
<path d="M855.5,423.2 C858.5,424.7 867.5,429.3 873.6,432.3 C879.6,435.4 885.6,438.4 891.6,441.5 C897.7,444.5 903.7,447.6 909.7,450.6 C915.8,453.7 921.8,456.7 927.8,459.8 C933.8,462.8 942.9,467.4 945.9,468.9" stroke="#5e4a2c" stroke-opacity="0.15" stroke-width="0.8"/>
<path d="M718.4,335.0 C731.7,341.4 770.6,360.9 797.9,373.5 C825.2,386.0 854.4,398.1 882.4,410.2 C910.3,422.4 939.1,434.1 965.7,446.4 C992.4,458.7 1017.7,471.2 1042.4,483.8 C1067.0,496.4 1101.5,515.6 1113.4,521.9" stroke="#fff6e2" stroke-opacity="0.15" stroke-width="1.6"/>
<path d="M857.4,636.0 C862.8,639.5 879.1,650.1 890.0,657.1 C901.0,664.1 911.9,671.0 923.0,677.9 C934.1,684.8 945.2,691.7 956.5,698.5 C967.8,705.3 979.2,712.1 990.8,718.8 C1002.4,725.5 1020.2,735.5 1026.1,738.8" stroke="#5e4a2c" stroke-opacity="0.23" stroke-width="1.3"/>
<path d="M994.3,496.6 C1004.4,500.8 1034.8,513.4 1054.8,521.8 C1074.8,530.2 1094.8,538.7 1114.3,547.1 C1133.7,555.6 1153.0,563.8 1171.6,572.3 C1190.3,580.9 1208.4,589.5 1226.2,598.3 C1243.9,607.1 1269.6,620.7 1278.2,625.1" stroke="#5e4a2c" stroke-opacity="0.20" stroke-width="0.7"/>
<path d="M409.8,296.2 C412.5,298.1 420.7,303.8 426.1,307.6 C431.6,311.4 437.0,315.2 442.5,319.0 C447.9,322.8 453.3,326.6 458.7,330.4 C464.2,334.2 469.6,338.1 475.0,341.9 C480.4,345.7 488.6,351.4 491.3,353.3" stroke="#5e4a2c" stroke-opacity="0.22" stroke-width="0.9"/>
<path d="M555.5,417.3 C566.7,424.1 600.2,444.7 622.6,458.3 C644.9,471.9 667.3,485.4 689.6,498.8 C711.8,512.3 734.0,525.7 756.1,539.0 C778.2,552.3 800.3,565.4 822.2,578.5 C844.2,591.6 876.9,611.2 887.8,617.7" stroke="#5e4a2c" stroke-opacity="0.22" stroke-width="0.5"/>
<path d="M755.9,436.1 C761.5,439.1 778.2,448.1 789.3,454.0 C800.4,460.0 811.6,465.9 822.8,471.9 C833.9,477.8 845.1,483.7 856.2,489.6 C867.4,495.6 878.5,501.6 889.7,507.4 C900.8,513.2 917.6,521.7 923.2,524.6" stroke="#5e4a2c" stroke-opacity="0.25" stroke-width="1.2"/>
<path d="M595.9,393.1 C608.0,400.3 644.1,421.9 668.4,436.2 C692.6,450.5 717.0,464.6 741.4,478.7 C765.8,492.7 790.3,506.8 815.0,520.5 C839.6,534.2 864.4,547.7 889.2,561.1 C914.0,574.5 951.3,594.5 963.7,601.1" stroke="#5e4a2c" stroke-opacity="0.08" stroke-width="1.4"/>
<path d="M620.1,285.2 C624.0,287.3 635.7,293.6 643.5,297.8 C651.3,301.9 659.1,306.1 666.9,310.2 C674.8,314.3 682.6,318.4 690.5,322.5 C698.3,326.5 706.2,330.6 714.1,334.7 C722.0,338.7 733.9,344.7 737.8,346.8" stroke="#5e4a2c" stroke-opacity="0.18" stroke-width="0.8"/>
<path d="M260.6,193.8 C268.7,199.0 293.2,214.7 309.6,225.1 C325.9,235.5 342.2,246.0 358.5,256.3 C374.8,266.7 391.2,276.9 407.2,287.2 C423.3,297.5 439.3,307.9 455.0,318.3 C470.7,328.8 493.9,344.5 501.7,349.7" stroke="#5e4a2c" stroke-opacity="0.24" stroke-width="1.6"/>
<path d="M355.6,470.7 C361.8,476.1 380.3,492.2 392.7,502.8 C405.2,513.5 417.6,524.2 430.4,534.7 C443.1,545.2 456.1,555.5 469.3,565.8 C482.5,576.1 495.9,586.3 509.5,596.4 C523.2,606.4 544.2,621.3 551.2,626.3" stroke="#5e4a2c" stroke-opacity="0.16" stroke-width="0.7"/>
<path d="M816.2,514.5 C827.7,520.7 862.3,539.4 885.4,551.8 C908.5,564.1 931.7,576.4 954.8,588.6 C977.8,600.8 1000.9,612.8 1023.8,624.8 C1046.7,636.9 1069.5,648.8 1092.3,660.9 C1115.1,672.9 1149.1,690.9 1160.4,696.9" stroke="#5e4a2c" stroke-opacity="0.09" stroke-width="1.2"/>
<path d="M245.9,288.4 C254.9,295.4 282.0,316.5 300.1,330.6 C318.2,344.7 336.2,358.9 354.6,372.9 C373.0,386.8 391.6,400.6 410.5,414.2 C429.4,427.8 448.9,441.0 468.2,454.3 C487.5,467.6 516.7,487.4 526.4,494.1" stroke="#5e4a2c" stroke-opacity="0.24" stroke-width="1.4"/>
<path d="M618.8,511.7 C625.1,515.9 644.0,528.5 656.6,536.8 C669.3,545.2 681.9,553.5 694.5,561.8 C707.2,570.0 719.9,578.1 732.6,586.3 C745.4,594.5 758.1,602.6 770.8,610.7 C783.6,618.8 802.9,630.9 809.3,634.9" stroke="#5e4a2c" stroke-opacity="0.16" stroke-width="0.8"/>
<path d="M374.9,520.0 C383.8,526.9 410.5,547.5 428.0,561.2 C445.4,574.9 462.7,588.6 479.8,602.2 C496.9,615.9 513.7,629.5 530.5,643.1 C547.3,656.7 563.8,670.4 580.6,683.9 C597.4,697.5 622.7,717.6 631.1,724.3" stroke="#fff6e2" stroke-opacity="0.27" stroke-width="1.4"/>
<path d="M258.6,362.8 C266.8,369.5 291.2,389.9 307.7,403.2 C324.2,416.5 340.9,429.4 357.6,442.4 C374.2,455.3 391.0,468.1 407.7,481.0 C424.3,493.9 440.9,506.9 457.5,519.7 C474.2,532.5 499.5,551.3 507.9,557.6" stroke="#5e4a2c" stroke-opacity="0.18" stroke-width="0.6"/>
<path d="M289.2,452.9 C293.0,456.1 304.5,465.6 312.2,472.0 C319.8,478.4 327.5,484.7 335.2,491.1 C342.8,497.5 350.4,503.9 358.1,510.2 C365.7,516.6 373.3,523.0 381.0,529.4 C388.6,535.7 400.2,545.1 404.1,548.3" stroke="#5e4a2c" stroke-opacity="0.21" stroke-width="1.3"/>
<path d="M102.3,239.3 C104.7,241.4 111.9,247.6 116.7,251.8 C121.5,256.0 126.3,260.2 131.1,264.4 C135.9,268.6 140.6,272.8 145.4,277.0 C150.2,281.2 154.9,285.4 159.8,289.5 C164.7,293.6 172.2,299.6 174.7,301.6" stroke="#5e4a2c" stroke-opacity="0.08" stroke-width="1.3"/>
</g>
</g>
<path d="M663,300 C657.8,304.8 643.1,318.9 631.5,328.7 C619.9,338.5 606.2,349.5 593.6,359.0 C581.0,368.5 568.4,377.6 555.8,385.5 C543.2,393.4 530.5,399.9 517.9,406.4 C505.3,412.9 495.3,418.8 480.0,424.4 C464.7,430.0 442.0,436.1 426.0,440.0 C410.0,443.9 400.4,446.9 384.0,447.7 C367.6,448.5 343.9,447.0 327.3,444.9 C310.8,442.8 298.9,439.3 284.7,435.0 C270.5,430.7 253.8,424.8 242.0,419.3 C230.2,413.9 222.6,408.2 213.6,402.3 C204.6,396.4 192.3,387.1 188.0,384.0" fill="none" stroke="url(#gc1)" stroke-width="1.7"/>
<path d="M695,554 C685.8,553.5 659.2,552.0 640.0,551.0 C620.8,550.0 606.2,550.2 580.0,547.7 C553.8,545.2 508.7,540.1 483.0,536.0 C457.3,531.9 445.0,528.7 426.0,523.0 C407.0,517.3 384.8,508.7 369.0,502.0 C353.2,495.3 347.2,491.3 331.5,483.0 C315.8,474.7 288.6,460.3 275.0,452.0 C261.4,443.7 257.2,438.8 250.0,433.0 C242.8,427.2 235.0,419.7 232.0,417.0" fill="none" stroke="url(#gc2)" stroke-width="1.3"/>
<path d="M29.5,239.8 C40.4,249.7 68.0,278.4 94.7,303.3 C121.4,328.2 166.7,368.0 189.4,388.6 C212.1,409.2 216.8,414.4 231.0,427.0 C245.2,439.6 251.6,444.9 274.7,464.4 C297.8,483.9 346.2,524.7 369.4,544.0 C392.6,563.3 400.6,569.3 413.9,580.0 C427.2,590.7 429.8,592.8 449.0,608.0 C468.2,623.2 500.2,648.5 529.4,671.0 C558.6,693.5 598.4,723.8 624.0,743.0 C649.6,762.2 669.3,776.2 682.8,786.0 C696.3,795.8 701.3,799.3 705.0,802.0" fill="none" stroke="#f8f5ee" stroke-width="1.6"/>
<g fill="none" stroke="#efe6d2" stroke-width="1.8" stroke-dasharray="2.2 4.2" stroke-linecap="round">
<path d="M663,300 L704,290"/>
<path d="M697,553.5 L1061,459.5"/>
<path d="M640,396.5 L828,352.5" stroke-opacity="0.3"/>
</g>
<path d="M705,803.2 L1379,595.5" stroke="#fbfaf6" stroke-width="2.2" fill="none"/>
<path d="M704,290 L1373.5,150.5 Q1218.8,259.8 1065,298 L828,352 Z" fill="#f5f5f5"/>
<path d="M829,352.5 C839.2,353.7 869.0,357.3 890.0,359.5 C911.0,361.7 931.7,363.1 955.0,365.6 C978.3,368.1 1003.4,371.9 1030.0,374.5 C1056.6,377.1 1081.7,379.9 1114.7,381.3 C1147.7,382.8 1193.3,383.7 1228.0,383.2 C1262.7,382.7 1295.5,380.2 1323.0,378.5 C1350.5,376.8 1381.3,374.1 1393.0,373.2 L1061,459.5 Z" fill="#f5f5f5"/>
<path d="M708,292.5 C800,322 930,326 1065,298 L850,347 C790,335 740,315 708,292.5 Z" fill="url(#gf)"/>
<path d="M704,290 L1373.5,150.5" stroke="#c2ad88" stroke-width="1.5" fill="none"/>
<path d="M704,290 L1010,226.3" stroke="#55524c" stroke-width="1.3" stroke-dasharray="4 3.5" fill="none"/>
<path d="M1010,226.3 L1373.5,150.5" stroke="#2a2a2a" stroke-width="1.4" fill="none"/>
<path d="M828,352 L1065,298" stroke="#c9b48f" stroke-width="1.4" fill="none"/>
<path d="M1061,459.5 L1393,373.2" stroke="#333" stroke-width="1.5" fill="none"/>
<g fill="none" stroke="#2a2a2a" stroke-width="2.5">
<path d="M1111.8,215 V53" stroke="#333"/>
<path d="M1110.8,52 H1428" stroke="#959595" stroke-width="2.3"/>
<path d="M1111.8,427 V343.4 H1428" stroke-linejoin="round"/>
<path d="M1112.5,564.8 H1428" stroke="#444"/>
<path d="M1112.5,758.8 H1428"/>
</g>
<circle cx="1112.5" cy="214.7" r="4.7" fill="#000"/>
<circle cx="1112.5" cy="427.2" r="4.7" fill="#000"/>
<circle cx="1112.5" cy="564.8" r="4.7" fill="#000"/>
<circle cx="1112.5" cy="758.8" r="4.7" fill="#000"/>
<text class="t" x="1444.7" y="58" font-size="35.5" textLength="138.8" lengthAdjust="spacingAndGlyphs">УФ-лак</text>
<text class="s" x="1444.7" y="88.7" font-size="19.8" textLength="318.3" lengthAdjust="spacingAndGlyphs">Защита от УФ-лучей и износа</text>
<text class="t" x="1444.7" y="349" font-size="35.5" textLength="538.3" lengthAdjust="spacingAndGlyphs">Защитный виниловый слой</text>
<text class="s" x="1444.7" y="372" font-size="19.8" textLength="382.3" lengthAdjust="spacingAndGlyphs">В соответствии с классом продукта</text>
<text class="t" x="1444.7" y="577.4" font-size="35.5" textLength="392.3" lengthAdjust="spacingAndGlyphs">Декоративный слой</text>
<text class="s" x="1444.7" y="612.2" font-size="19.8" textLength="316.3" lengthAdjust="spacingAndGlyphs">Реалистичное фото текстуры</text>
<text class="t" x="1443.4" y="767" font-size="35.5" textLength="170.6" lengthAdjust="spacingAndGlyphs">Базовый</text>
<text class="t" x="1444.7" y="798.3" font-size="35.5" textLength="454.3" lengthAdjust="spacingAndGlyphs">кварц-виниловый слой</text>
<text class="s" x="1444.7" y="826" font-size="19.8" textLength="305.3" lengthAdjust="spacingAndGlyphs">С кварцевым наполнителем</text>
</svg></body></html>
